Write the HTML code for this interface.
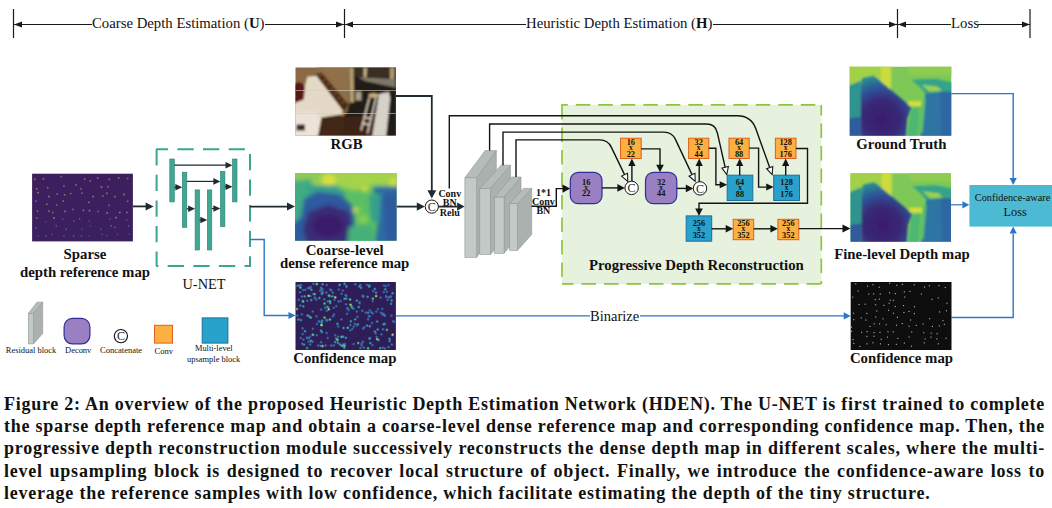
<!DOCTYPE html>
<html><head><meta charset="utf-8">
<style>
html,body{margin:0;padding:0;background:#fff;}
body{width:1052px;height:508px;position:relative;overflow:hidden;font-family:"Liberation Serif",serif;}
svg{position:absolute;left:0;top:0;}
.cap{position:absolute;left:4px;width:1041px;font:bold 18px/22.4px "Liberation Serif",serif;color:#111;letter-spacing:0.77px;white-space:nowrap;}
.cap div{height:22.4px;text-align:justify;text-align-last:justify;}
.cap div.last{text-align:left;text-align-last:left;}
</style></head><body>
<svg width="1052" height="380" viewBox="0 0 1052 380">
<defs><filter id="bl2" x="-10%" y="-10%" width="120%" height="120%"><feGaussianBlur stdDeviation="14"/></filter><filter id="bl1" x="-10%" y="-10%" width="120%" height="120%"><feGaussianBlur stdDeviation="7"/></filter><filter id="bl3" x="-10%" y="-10%" width="120%" height="120%"><feGaussianBlur stdDeviation="22"/></filter><filter id="dotb" x="-5%" y="-5%" width="110%" height="110%"><feGaussianBlur stdDeviation="0.85"/></filter><clipPath id="cRGB"><rect x="295.50" y="67.50" width="100.30" height="68.00"/></clipPath><filter id="b08" x="-20%" y="-20%" width="140%" height="140%"><feGaussianBlur stdDeviation="0.7"/></filter><filter id="b12" x="-20%" y="-20%" width="140%" height="140%"><feGaussianBlur stdDeviation="1.1"/></filter><filter id="b20" x="-20%" y="-20%" width="140%" height="140%"><feGaussianBlur stdDeviation="2.0"/></filter><clipPath id="cCM"><rect x="295.00" y="173.00" width="101.60" height="67.80"/></clipPath><radialGradient id="gFut" gradientUnits="userSpaceOnUse" cx="32" cy="52" r="46"><stop offset="0" stop-color="#3b1b6a"/><stop offset="0.42" stop-color="#382a78"/><stop offset="0.68" stop-color="#2d5499"/><stop offset="0.88" stop-color="#2b8293"/><stop offset="1" stop-color="#2a9a8d"/></radialGradient><clipPath id="cGT"><rect x="849.70" y="66.80" width="101.60" height="68.90"/></clipPath><clipPath id="cFL"><rect x="850.50" y="173.30" width="100.50" height="68.50"/></clipPath></defs>
<g stroke="#1a1a1a" stroke-width="1.2" fill="none">
<path d="M13.5 9V38M344.5 9V38M897.5 9V38M1030 9V38"/>
<path d="M14 24.5H92M265 24.5H344M345 24.5H526M713 24.5H897M898 24.5H951M978 24.5H1030"/>
</g>
<path d="M14.00 24.50 L22.00 21.50 L22.00 27.50 Z" fill="#1a1a1a"/>
<path d="M344.00 24.50 L336.00 21.50 L336.00 27.50 Z" fill="#1a1a1a"/>
<path d="M345.00 24.50 L353.00 21.50 L353.00 27.50 Z" fill="#1a1a1a"/>
<path d="M897.00 24.50 L889.00 21.50 L889.00 27.50 Z" fill="#1a1a1a"/>
<path d="M898.00 24.50 L906.00 21.50 L906.00 27.50 Z" fill="#1a1a1a"/>
<path d="M1030.00 24.50 L1022.00 21.50 L1022.00 27.50 Z" fill="#1a1a1a"/>
<g font-family="Liberation Serif" font-size="14.75" fill="#111">
<text x="92" y="28">Coarse Depth Estimation (<tspan font-weight="bold">U</tspan>)</text>
<text x="526" y="28">Heuristic Depth Estimation (<tspan font-weight="bold">H</tspan>)</text>
<text x="951" y="28">Loss</text>
</g>
<rect x="32.1" y="173.7" width="100.8" height="67.7" fill="#3c1f5f"/>
<rect x="34.0" y="178.5" width="1.6" height="1.6" fill="#d8893a" fill-opacity="0.7"/>
<rect x="42.7" y="178.1" width="1.6" height="1.6" fill="#c9953c" fill-opacity="0.7"/>
<rect x="60.5" y="175.7" width="1.6" height="1.6" fill="#b8834c" fill-opacity="0.7"/>
<rect x="83.8" y="178.4" width="1.6" height="1.6" fill="#d8893a" fill-opacity="0.7"/>
<rect x="89.5" y="180.1" width="1.6" height="1.6" fill="#d8893a" fill-opacity="0.7"/>
<rect x="96.9" y="177.3" width="1.6" height="1.6" fill="#d8893a" fill-opacity="0.7"/>
<rect x="108.5" y="178.6" width="1.6" height="1.6" fill="#d8893a" fill-opacity="0.7"/>
<rect x="117.9" y="177.1" width="1.6" height="1.6" fill="#d8893a" fill-opacity="0.7"/>
<rect x="126.8" y="177.7" width="1.6" height="1.6" fill="#b8834c" fill-opacity="0.7"/>
<rect x="35.9" y="188.0" width="1.6" height="1.6" fill="#e09a40" fill-opacity="0.7"/>
<rect x="46.9" y="186.9" width="1.6" height="1.6" fill="#c9953c" fill-opacity="0.7"/>
<rect x="63.1" y="185.1" width="1.6" height="1.6" fill="#b8834c" fill-opacity="0.7"/>
<rect x="75.0" y="184.0" width="1.6" height="1.6" fill="#b8834c" fill-opacity="0.7"/>
<rect x="80.2" y="188.1" width="1.6" height="1.6" fill="#b8834c" fill-opacity="0.7"/>
<rect x="100.7" y="186.3" width="1.6" height="1.6" fill="#e09a40" fill-opacity="0.7"/>
<rect x="107.2" y="185.9" width="1.6" height="1.6" fill="#b8834c" fill-opacity="0.7"/>
<rect x="37.3" y="191.9" width="1.6" height="1.6" fill="#e09a40" fill-opacity="0.7"/>
<rect x="48.1" y="195.7" width="1.6" height="1.6" fill="#e09a40" fill-opacity="0.7"/>
<rect x="56.4" y="193.3" width="1.6" height="1.6" fill="#b8834c" fill-opacity="0.7"/>
<rect x="63.8" y="194.1" width="1.6" height="1.6" fill="#c9953c" fill-opacity="0.7"/>
<rect x="69.9" y="192.8" width="1.6" height="1.6" fill="#b8834c" fill-opacity="0.7"/>
<rect x="81.1" y="192.4" width="1.6" height="1.6" fill="#b8834c" fill-opacity="0.7"/>
<rect x="92.4" y="195.7" width="1.6" height="1.6" fill="#e09a40" fill-opacity="0.7"/>
<rect x="102.0" y="195.0" width="1.6" height="1.6" fill="#b8834c" fill-opacity="0.7"/>
<rect x="106.0" y="192.5" width="1.6" height="1.6" fill="#c9953c" fill-opacity="0.7"/>
<rect x="114.2" y="195.8" width="1.6" height="1.6" fill="#c9953c" fill-opacity="0.7"/>
<rect x="123.1" y="193.7" width="1.6" height="1.6" fill="#e09a40" fill-opacity="0.7"/>
<rect x="35.0" y="200.4" width="1.6" height="1.6" fill="#9a8a70" fill-opacity="0.7"/>
<rect x="46.0" y="203.5" width="1.6" height="1.6" fill="#c88a58" fill-opacity="0.7"/>
<rect x="55.8" y="204.2" width="1.6" height="1.6" fill="#9a8a70" fill-opacity="0.7"/>
<rect x="62.5" y="200.3" width="1.6" height="1.6" fill="#c88a58" fill-opacity="0.7"/>
<rect x="88.1" y="201.5" width="1.6" height="1.6" fill="#b88898" fill-opacity="0.7"/>
<rect x="108.3" y="204.5" width="1.6" height="1.6" fill="#9a8a70" fill-opacity="0.7"/>
<rect x="126.8" y="200.5" width="1.6" height="1.6" fill="#a88278" fill-opacity="0.7"/>
<rect x="36.7" y="210.4" width="1.6" height="1.6" fill="#b88898" fill-opacity="0.7"/>
<rect x="48.1" y="210.3" width="1.6" height="1.6" fill="#c88a58" fill-opacity="0.7"/>
<rect x="52.0" y="211.7" width="1.6" height="1.6" fill="#a88278" fill-opacity="0.7"/>
<rect x="64.3" y="210.6" width="1.6" height="1.6" fill="#c89aa8" fill-opacity="0.7"/>
<rect x="72.3" y="208.7" width="1.6" height="1.6" fill="#9a8a70" fill-opacity="0.7"/>
<rect x="82.6" y="209.5" width="1.6" height="1.6" fill="#b88898" fill-opacity="0.7"/>
<rect x="88.7" y="209.8" width="1.6" height="1.6" fill="#c89aa8" fill-opacity="0.7"/>
<rect x="97.4" y="210.7" width="1.6" height="1.6" fill="#9a8a70" fill-opacity="0.7"/>
<rect x="106.4" y="212.1" width="1.6" height="1.6" fill="#c89aa8" fill-opacity="0.7"/>
<rect x="119.0" y="211.7" width="1.6" height="1.6" fill="#c89aa8" fill-opacity="0.7"/>
<rect x="126.1" y="211.7" width="1.6" height="1.6" fill="#b88898" fill-opacity="0.7"/>
<rect x="35.9" y="217.2" width="1.6" height="1.6" fill="#9a8a70" fill-opacity="0.7"/>
<rect x="44.8" y="220.9" width="1.6" height="1.6" fill="#2f5cac" fill-opacity="0.7"/>
<rect x="53.3" y="217.3" width="1.6" height="1.6" fill="#c89aa8" fill-opacity="0.7"/>
<rect x="62.1" y="218.6" width="1.6" height="1.6" fill="#3a6cc0" fill-opacity="0.7"/>
<rect x="73.0" y="220.2" width="1.6" height="1.6" fill="#3a6cc0" fill-opacity="0.7"/>
<rect x="78.8" y="218.1" width="1.6" height="1.6" fill="#4080c8" fill-opacity="0.7"/>
<rect x="88.2" y="220.1" width="1.6" height="1.6" fill="#2f5cac" fill-opacity="0.7"/>
<rect x="109.4" y="218.5" width="1.6" height="1.6" fill="#3a6cc0" fill-opacity="0.7"/>
<rect x="115.1" y="216.8" width="1.6" height="1.6" fill="#c89aa8" fill-opacity="0.7"/>
<rect x="125.9" y="219.5" width="1.6" height="1.6" fill="#5a62a8" fill-opacity="0.7"/>
<rect x="35.2" y="227.1" width="1.6" height="1.6" fill="#4080c8" fill-opacity="0.7"/>
<rect x="55.5" y="224.9" width="1.6" height="1.6" fill="#4080c8" fill-opacity="0.7"/>
<rect x="65.3" y="228.5" width="1.6" height="1.6" fill="#4080c8" fill-opacity="0.7"/>
<rect x="81.1" y="228.2" width="1.6" height="1.6" fill="#2f5cac" fill-opacity="0.7"/>
<rect x="89.6" y="225.1" width="1.6" height="1.6" fill="#2f5cac" fill-opacity="0.7"/>
<rect x="100.1" y="228.5" width="1.6" height="1.6" fill="#5a62a8" fill-opacity="0.7"/>
<rect x="110.4" y="225.1" width="1.6" height="1.6" fill="#4080c8" fill-opacity="0.7"/>
<rect x="114.2" y="226.6" width="1.6" height="1.6" fill="#4080c8" fill-opacity="0.7"/>
<rect x="127.8" y="225.1" width="1.6" height="1.6" fill="#4080c8" fill-opacity="0.7"/>
<rect x="37.5" y="235.4" width="1.6" height="1.6" fill="#2f5cac" fill-opacity="0.7"/>
<rect x="45.3" y="235.0" width="1.6" height="1.6" fill="#3a6cc0" fill-opacity="0.7"/>
<rect x="51.4" y="233.6" width="1.6" height="1.6" fill="#3a6cc0" fill-opacity="0.7"/>
<rect x="63.1" y="235.4" width="1.6" height="1.6" fill="#3a6cc0" fill-opacity="0.7"/>
<rect x="72.8" y="235.1" width="1.6" height="1.6" fill="#4080c8" fill-opacity="0.7"/>
<rect x="80.8" y="235.3" width="1.6" height="1.6" fill="#5a62a8" fill-opacity="0.7"/>
<rect x="88.6" y="235.2" width="1.6" height="1.6" fill="#2f5cac" fill-opacity="0.7"/>
<rect x="101.5" y="233.6" width="1.6" height="1.6" fill="#5a62a8" fill-opacity="0.7"/>
<rect x="105.8" y="234.8" width="1.6" height="1.6" fill="#3a6cc0" fill-opacity="0.7"/>
<rect x="116.7" y="233.7" width="1.6" height="1.6" fill="#2f5cac" fill-opacity="0.7"/>
<rect x="128.5" y="233.4" width="1.6" height="1.6" fill="#2f5cac" fill-opacity="0.7"/>
<path d="M156.10 149.20 L250.00 149.20" stroke="#3ba590" stroke-width="2" stroke-dasharray="16.3 9.3" stroke-dashoffset="4.3" fill="none"/>
<path d="M156.60 148.20 L156.60 266.00" stroke="#3ba590" stroke-width="2" stroke-dasharray="16.3 9.3" stroke-dashoffset="-1" fill="none"/>
<path d="M250.00 149.20 L250.00 266.00" stroke="#3ba590" stroke-width="2" stroke-dasharray="16.3 9.3" stroke-dashoffset="20.9" fill="none"/>
<path d="M156.10 266.00 L251.00 266.00" stroke="#3ba590" stroke-width="2" stroke-dasharray="16.3 9.3" stroke-dashoffset="14" fill="none"/>
<rect x="169.80" y="159.00" width="4.5" height="42.90" fill="#40a792" stroke="#2b7f70" stroke-width="0.6"/>
<rect x="182.30" y="172.20" width="4.5" height="55.10" fill="#40a792" stroke="#2b7f70" stroke-width="0.6"/>
<rect x="195.10" y="189.90" width="4.5" height="60.10" fill="#40a792" stroke="#2b7f70" stroke-width="0.6"/>
<rect x="207.30" y="189.90" width="4.5" height="60.10" fill="#40a792" stroke="#2b7f70" stroke-width="0.6"/>
<rect x="220.40" y="171.40" width="4.5" height="55.20" fill="#40a792" stroke="#2b7f70" stroke-width="0.6"/>
<rect x="232.50" y="159.00" width="4.5" height="42.90" fill="#40a792" stroke="#2b7f70" stroke-width="0.6"/>
<path d="M174.30 165.20 L228.50 165.20" fill="none" stroke="#1f2b30" stroke-width="1.2" stroke-linejoin="miter"/>
<path d="M232.50 165.20 L225.50 161.90 L225.50 168.50 Z" fill="#1f2b30"/>
<path d="M186.80 181.40 L216.40 181.40" fill="none" stroke="#1f2b30" stroke-width="1.2" stroke-linejoin="miter"/>
<path d="M220.40 181.40 L213.40 178.10 L213.40 184.70 Z" fill="#1f2b30"/>
<path d="M174.30 187.30 L178.30 187.30" fill="none" stroke="#1f2b30" stroke-width="1.2" stroke-linejoin="miter"/>
<path d="M182.30 187.30 L175.30 184.00 L175.30 190.60 Z" fill="#1f2b30"/>
<path d="M186.80 208.80 L191.10 208.80" fill="none" stroke="#1f2b30" stroke-width="1.2" stroke-linejoin="miter"/>
<path d="M195.10 208.80 L188.10 205.50 L188.10 212.10 Z" fill="#1f2b30"/>
<path d="M199.60 220.00 L203.30 220.00" fill="none" stroke="#1f2b30" stroke-width="1.2" stroke-linejoin="miter"/>
<path d="M207.30 220.00 L200.30 216.70 L200.30 223.30 Z" fill="#1f2b30"/>
<path d="M211.80 208.50 L216.40 208.50" fill="none" stroke="#1f2b30" stroke-width="1.2" stroke-linejoin="miter"/>
<path d="M220.40 208.50 L213.40 205.20 L213.40 211.80 Z" fill="#1f2b30"/>
<path d="M224.90 186.70 L228.50 186.70" fill="none" stroke="#1f2b30" stroke-width="1.2" stroke-linejoin="miter"/>
<path d="M232.50 186.70 L225.50 183.40 L225.50 190.00 Z" fill="#1f2b30"/>
<path d="M133.00 206.40 L147.00 206.40" fill="none" stroke="#1f2b30" stroke-width="1.8" stroke-linejoin="miter"/>
<path d="M153.60 206.40 L145.60 202.40 L145.60 210.40 Z" fill="#1f2b30"/>
<path d="M250.00 206.60 L288.00 206.60" fill="none" stroke="#1f2b30" stroke-width="1.8" stroke-linejoin="miter"/>
<path d="M295.00 206.60 L287.00 202.60 L287.00 210.60 Z" fill="#1f2b30"/>
<path d="M250.00 239.50 L264.20 239.50 L264.20 315.50 L289.00 315.50" fill="none" stroke="#2c77c5" stroke-width="1.4" stroke-linejoin="miter"/>
<path d="M295.50 315.50 L288.50 312.00 L288.50 319.00 Z" fill="#2c77c5"/>
<g font-family="Liberation Serif" font-weight="bold" font-size="14.8" fill="#111" text-anchor="middle" transform="translate(0 0.8)">
<text x="85" y="258">Sparse</text>
<text x="85" y="276.5">depth reference map</text>
<text x="346.6" y="148.6">RGB</text>
<text x="344.7" y="253.8">Coarse-level</text>
<text x="344.7" y="267.5">dense reference map</text>
<text x="344.8" y="362">Confidence map</text>
<text x="901.4" y="147.8">Ground Truth</text>
<text x="902" y="258">Fine-level Depth map</text>
<text x="901.5" y="362">Confidence map</text>
</g>
<g font-family="Liberation Serif" font-size="14.3" fill="#111" text-anchor="middle">
<text x="204" y="288.5">U-NET</text>
</g>
<path d="M476.70 177.80 L496.30 150.60 L496.30 230.00 L476.70 257.30 Z" fill="#aab1ae" stroke="#8f9895" stroke-width="0.6"/><path d="M464.90 177.80 L485.20 150.60 L496.30 150.60 L476.70 177.80 Z" fill="#b5bcb9" stroke="#8f9895" stroke-width="0.6"/><rect x="464.90" y="177.80" width="11.80" height="79.50" fill="#c3c9c7" stroke="#8f9895" stroke-width="0.6"/>
<path d="M490.40 188.40 L510.50 165.20 L510.50 232.00 L490.40 254.50 Z" fill="#aab1ae" stroke="#8f9895" stroke-width="0.6"/><path d="M479.80 188.40 L501.00 165.20 L510.50 165.20 L490.40 188.40 Z" fill="#b5bcb9" stroke="#8f9895" stroke-width="0.6"/><rect x="479.80" y="188.40" width="10.60" height="66.10" fill="#c3c9c7" stroke="#8f9895" stroke-width="0.6"/>
<path d="M504.10 197.10 L521.00 177.00 L521.00 233.00 L504.10 253.30 Z" fill="#aab1ae" stroke="#8f9895" stroke-width="0.6"/><path d="M494.60 197.10 L511.60 177.00 L521.00 177.00 L504.10 197.10 Z" fill="#b5bcb9" stroke="#8f9895" stroke-width="0.6"/><rect x="494.60" y="197.10" width="9.50" height="56.20" fill="#c3c9c7" stroke="#8f9895" stroke-width="0.6"/>
<path d="M517.50 203.70 L531.70 188.40 L531.70 234.40 L517.50 250.40 Z" fill="#aab1ae" stroke="#8f9895" stroke-width="0.6"/><path d="M509.70 203.70 L523.40 188.40 L531.70 188.40 L517.50 203.70 Z" fill="#b5bcb9" stroke="#8f9895" stroke-width="0.6"/><rect x="509.70" y="203.70" width="7.80" height="46.70" fill="#c3c9c7" stroke="#8f9895" stroke-width="0.6"/>
<path d="M396.60 206.60 L418.00 206.60" fill="none" stroke="#1f2b30" stroke-width="1.8" stroke-linejoin="miter"/>
<path d="M424.80 206.60 L416.80 202.40 L416.80 210.80 Z" fill="#1f2b30"/>
<path d="M396.00 96.00 L431.80 96.00 L431.80 191.00" fill="none" stroke="#1f2b30" stroke-width="1.8" stroke-linejoin="miter"/>
<path d="M431.80 198.60 L427.40 190.20 L436.20 190.20 Z" fill="#1f2b30"/>
<circle cx="431.8" cy="206.6" r="6.6" fill="#fff" stroke="#111" stroke-width="1"/>
<text x="431.8" y="210.8" font-family="Liberation Serif" font-size="12" fill="#181c30" text-anchor="middle">C</text>
<path d="M438.40 206.60 L457.00 206.60" fill="none" stroke="#1f2b30" stroke-width="1.8" stroke-linejoin="miter"/>
<path d="M464.60 206.60 L457.10 202.40 L457.10 210.80 Z" fill="#1f2b30"/>
<g font-family="Liberation Serif" font-weight="bold" font-size="10" fill="#111" text-anchor="middle">
<text x="449.8" y="196.9">Conv</text><text x="449.8" y="206.2">BN</text><text x="449.8" y="215.6">Relu</text>
<text x="543.4" y="195.9">1*1</text><text x="543.4" y="204.6">Conv</text><text x="543.4" y="214.4">BN</text>
</g>
<rect x="562" y="105" width="259.3" height="179" fill="#e6f1de"/>
<path d="M561.20 104.90 L821.30 104.90" stroke="#8cc63f" stroke-width="1.7" stroke-dasharray="14.5 8" stroke-dashoffset="7.9" fill="none"/>
<path d="M562.00 104.90 L562.00 284.00" stroke="#8cc63f" stroke-width="1.7" stroke-dasharray="14.5 8" stroke-dashoffset="0" fill="none"/>
<path d="M821.30 104.90 L821.30 284.00" stroke="#8cc63f" stroke-width="1.7" stroke-dasharray="14.5 8" stroke-dashoffset="4" fill="none"/>
<path d="M562.00 283.80 L821.30 283.80" stroke="#8cc63f" stroke-width="1.7" stroke-dasharray="14.5 8" stroke-dashoffset="3" fill="none"/>
<path d="M449.30 188.40 L449.30 115.80 L737.20 115.80 Q751.20 115.80 755.91 128.98 L769.68 167.54" fill="none" stroke="#141414" stroke-width="1.4"/><path d="M772.20 174.60 L766.57 168.65 L772.79 166.43 Z" fill="#fff" stroke="#141414" stroke-width="1.05" stroke-linejoin="miter"/>
<path d="M489.60 150.60 L489.60 124.00 L706.40 124.00 Q715.40 124.00 717.38 132.78 L725.15 167.28" fill="none" stroke="#141414" stroke-width="1.4"/><path d="M726.80 174.60 L721.93 168.01 L728.37 166.56 Z" fill="#fff" stroke="#141414" stroke-width="1.05" stroke-linejoin="miter"/>
<path d="M503.00 165.20 L503.00 132.10 L664.00 132.10 Q672.00 132.10 675.41 139.34 L692.01 174.61" fill="none" stroke="#141414" stroke-width="1.4"/><path d="M695.20 181.40 L689.02 176.02 L694.99 173.21 Z" fill="#fff" stroke="#141414" stroke-width="1.05" stroke-linejoin="miter"/>
<path d="M516.00 177.00 L516.00 139.90 L599.80 139.90 Q607.80 139.90 611.27 147.11 L624.54 174.64" fill="none" stroke="#141414" stroke-width="1.4"/><path d="M627.80 181.40 L621.57 176.08 L627.52 173.21 Z" fill="#fff" stroke="#141414" stroke-width="1.05" stroke-linejoin="miter"/>
<text x="696.4" y="269.8" font-family="Liberation Serif" font-weight="bold" font-size="14.8" fill="#111" text-anchor="middle">Progressive Depth Reconstruction</text>
<path d="M531.50 206.30 L556.30 206.30 L556.30 188.60 L563.00 188.60" fill="none" stroke="#141414" stroke-width="1.4" stroke-linejoin="miter"/>
<path d="M570.20 188.60 L562.50 184.50 L562.50 192.70 Z" fill="#141414"/>
<rect x="570.30" y="172.30" width="31.70" height="31.40" rx="8" ry="8" fill="#9a80c2" stroke="#2f2f96" stroke-width="1.2"/><g font-family="Liberation Serif" font-weight="bold" font-size="8.3" fill="#111" text-anchor="middle"><text x="586.15" y="184.50">16</text><text x="586.15" y="189.50" font-size="7.5">x</text><text x="586.15" y="196.40">22</text></g>
<rect x="645.50" y="172.30" width="31.30" height="31.40" rx="8" ry="8" fill="#9a80c2" stroke="#2f2f96" stroke-width="1.2"/><g font-family="Liberation Serif" font-weight="bold" font-size="8.3" fill="#111" text-anchor="middle"><text x="661.15" y="184.50">32</text><text x="661.15" y="189.50" font-size="7.5">x</text><text x="661.15" y="196.40">44</text></g>
<rect x="620.50" y="138.20" width="20.70" height="20.30" fill="#fbb041" stroke="#e0601e" stroke-width="1"/><g font-family="Liberation Serif" font-weight="bold" font-size="8.3" fill="#111" text-anchor="middle"><text x="630.85" y="145.10">16</text><text x="630.85" y="150.10" font-size="7.5">x</text><text x="630.85" y="157.00">22</text></g>
<rect x="688.60" y="138.20" width="20.20" height="20.30" fill="#fbb041" stroke="#e0601e" stroke-width="1"/><g font-family="Liberation Serif" font-weight="bold" font-size="8.3" fill="#111" text-anchor="middle"><text x="698.70" y="145.10">32</text><text x="698.70" y="150.10" font-size="7.5">x</text><text x="698.70" y="157.00">44</text></g>
<rect x="729.00" y="138.20" width="20.20" height="20.30" fill="#fbb041" stroke="#e0601e" stroke-width="1"/><g font-family="Liberation Serif" font-weight="bold" font-size="8.3" fill="#111" text-anchor="middle"><text x="739.10" y="145.10">64</text><text x="739.10" y="150.10" font-size="7.5">x</text><text x="739.10" y="157.00">88</text></g>
<rect x="775.40" y="138.20" width="20.60" height="20.30" fill="#fbb041" stroke="#e0601e" stroke-width="1"/><g font-family="Liberation Serif" font-weight="bold" font-size="8.3" fill="#111" text-anchor="middle"><text x="785.70" y="145.10">128</text><text x="785.70" y="150.10" font-size="7.5">x</text><text x="785.70" y="157.00">176</text></g>
<rect x="727.20" y="175.20" width="25.60" height="25.30" fill="#28a2cb" stroke="#1a6f9f" stroke-width="1"/><g font-family="Liberation Serif" font-weight="bold" font-size="8.3" fill="#111" text-anchor="middle"><text x="740.00" y="184.90">64</text><text x="740.00" y="189.90" font-size="7.5">x</text><text x="740.00" y="196.80">88</text></g>
<rect x="773.70" y="175.20" width="25.80" height="25.30" fill="#28a2cb" stroke="#1a6f9f" stroke-width="1"/><g font-family="Liberation Serif" font-weight="bold" font-size="8.3" fill="#111" text-anchor="middle"><text x="786.60" y="184.90">128</text><text x="786.60" y="189.90" font-size="7.5">x</text><text x="786.60" y="196.80">176</text></g>
<rect x="686.20" y="215.90" width="25.50" height="25.30" fill="#28a2cb" stroke="#1a6f9f" stroke-width="1"/><g font-family="Liberation Serif" font-weight="bold" font-size="8.3" fill="#111" text-anchor="middle"><text x="698.95" y="225.60">256</text><text x="698.95" y="230.60" font-size="7.5">x</text><text x="698.95" y="237.50">352</text></g>
<rect x="733.20" y="219.30" width="20.50" height="20.40" fill="#fbb041" stroke="#e0601e" stroke-width="1"/><g font-family="Liberation Serif" font-weight="bold" font-size="8.3" fill="#111" text-anchor="middle"><text x="743.45" y="226.20">256</text><text x="743.45" y="231.20" font-size="7.5">x</text><text x="743.45" y="238.10">352</text></g>
<rect x="777.90" y="219.30" width="20.90" height="20.40" fill="#fbb041" stroke="#e0601e" stroke-width="1"/><g font-family="Liberation Serif" font-weight="bold" font-size="8.3" fill="#111" text-anchor="middle"><text x="788.35" y="226.20">256</text><text x="788.35" y="231.20" font-size="7.5">x</text><text x="788.35" y="238.10">352</text></g>
<circle cx="631.60" cy="187.90" r="6.7" fill="#fff" stroke="#111" stroke-width="1"/><text x="631.60" y="192.10" font-family="Liberation Serif" font-size="12" fill="#181c30" text-anchor="middle">C</text>
<circle cx="700.00" cy="188.40" r="6.7" fill="#fff" stroke="#111" stroke-width="1"/><text x="700.00" y="192.60" font-family="Liberation Serif" font-size="12" fill="#181c30" text-anchor="middle">C</text>
<path d="M602.00 187.90 L618.00 187.90" fill="none" stroke="#141414" stroke-width="1.4" stroke-linejoin="miter"/>
<path d="M624.90 187.90 L617.40 184.10 L617.40 191.70 Z" fill="#141414"/>
<path d="M676.80 188.40 L686.00 188.40" fill="none" stroke="#141414" stroke-width="1.4" stroke-linejoin="miter"/>
<path d="M693.30 188.40 L685.80 184.60 L685.80 192.20 Z" fill="#141414"/>
<path d="M631.90 181.20 L631.90 165.00" fill="none" stroke="#141414" stroke-width="1.4" stroke-linejoin="miter"/>
<path d="M631.90 158.50 L628.30 166.00 L635.50 166.00 Z" fill="#141414"/>
<path d="M699.20 181.70 L699.20 165.00" fill="none" stroke="#141414" stroke-width="1.4" stroke-linejoin="miter"/>
<path d="M699.20 158.50 L695.60 166.00 L702.80 166.00 Z" fill="#141414"/>
<path d="M739.70 175.20 L739.70 165.00" fill="none" stroke="#141414" stroke-width="1.4" stroke-linejoin="miter"/>
<path d="M739.70 158.50 L736.10 166.00 L743.30 166.00 Z" fill="#141414"/>
<path d="M785.70 175.20 L785.70 165.00" fill="none" stroke="#141414" stroke-width="1.4" stroke-linejoin="miter"/>
<path d="M785.70 158.50 L782.10 166.00 L789.30 166.00 Z" fill="#141414"/>
<path d="M641.20 148.90 L660.00 148.90 L660.00 165.00" fill="none" stroke="#141414" stroke-width="1.4" stroke-linejoin="miter"/>
<path d="M660.00 172.30 L656.20 164.80 L663.80 164.80 Z" fill="#141414"/>
<path d="M708.80 148.30 L715.90 148.30 L715.90 184.80 L720.00 184.80" fill="none" stroke="#141414" stroke-width="1.4" stroke-linejoin="miter"/>
<path d="M727.20 184.80 L719.70 181.30 L719.70 188.30 Z" fill="#141414"/>
<path d="M749.20 148.10 L758.60 148.10 L758.60 187.10 L766.00 187.10" fill="none" stroke="#141414" stroke-width="1.4" stroke-linejoin="miter"/>
<path d="M773.70 187.10 L766.20 183.60 L766.20 190.60 Z" fill="#141414"/>
<path d="M796.00 148.50 L807.50 148.50 L807.50 203.20 L699.00 203.20 L699.00 209.00" fill="none" stroke="#141414" stroke-width="1.4" stroke-linejoin="miter"/>
<path d="M699.00 215.90 L695.20 208.40 L702.80 208.40 Z" fill="#141414"/>
<path d="M711.70 228.80 L726.00 228.80" fill="none" stroke="#141414" stroke-width="1.4" stroke-linejoin="miter"/>
<path d="M733.20 228.80 L725.70 225.00 L725.70 232.60 Z" fill="#141414"/>
<path d="M753.70 228.80 L771.00 228.80" fill="none" stroke="#141414" stroke-width="1.4" stroke-linejoin="miter"/>
<path d="M777.90 228.80 L770.40 225.00 L770.40 232.60 Z" fill="#141414"/>
<path d="M798.80 228.60 L843.00 228.60" fill="none" stroke="#141414" stroke-width="1.4" stroke-linejoin="miter"/>
<path d="M850.50 228.60 L842.50 224.60 L842.50 232.60 Z" fill="#141414"/>
<rect x="969.4" y="185" width="90" height="41.6" fill="#4dbad4"/>
<text x="974.8" y="200.7" font-family="Liberation Serif" font-size="10.3" fill="#111">Confidence-aware</text>
<text x="1015.2" y="215.7" font-family="Liberation Serif" font-size="12.3" fill="#111" text-anchor="middle">Loss</text>
<path d="M951.30 93.60 L1013.20 93.60 L1013.20 178.00" fill="none" stroke="#2c77c5" stroke-width="1.4" stroke-linejoin="miter"/>
<path d="M1013.20 185.00 L1009.60 178.00 L1016.80 178.00 Z" fill="#2c77c5"/>
<path d="M951.50 317.50 L1013.20 317.50 L1013.20 233.60" fill="none" stroke="#2c77c5" stroke-width="1.4" stroke-linejoin="miter"/>
<path d="M1013.20 226.60 L1009.60 233.60 L1016.80 233.60 Z" fill="#2c77c5"/>
<path d="M951.00 204.80 L962.50 204.80" fill="none" stroke="#2c77c5" stroke-width="1.2" stroke-linejoin="miter"/>
<path d="M969.40 204.80 L962.40 201.20 L962.40 208.40 Z" fill="#2c77c5"/>
<path d="M396.00 315.90 L590.00 315.90" fill="none" stroke="#2c77c5" stroke-width="1.2" stroke-linejoin="miter"/>
<path d="M640.00 315.90 L844.00 315.90" fill="none" stroke="#2c77c5" stroke-width="1.2" stroke-linejoin="miter"/>
<path d="M850.70 315.90 L843.70 312.30 L843.70 319.50 Z" fill="#2c77c5"/>
<text x="590" y="320.8" font-family="Liberation Serif" font-size="14.5" fill="#111">Binarize</text>
<path d="M33.50 313.60 L42.70 302.20 L42.70 333.60 L33.50 343.90 Z" fill="#aab1ae" stroke="#8f9895" stroke-width="0.6"/><path d="M28.30 313.60 L36.90 302.20 L42.70 302.20 L33.50 313.60 Z" fill="#b5bcb9" stroke="#8f9895" stroke-width="0.6"/><rect x="28.30" y="313.60" width="5.20" height="30.30" fill="#c3c9c7" stroke="#8f9895" stroke-width="0.6"/>
<rect x="64.1" y="318.4" width="25.8" height="25.5" rx="8.3" ry="8.3" fill="#9a80c2" stroke="#2f2f96" stroke-width="1.2"/>
<circle cx="120.9" cy="336.1" r="6.6" fill="#fff" stroke="#111" stroke-width="1.1"/><text x="120.9" y="340.4" font-family="Liberation Serif" font-size="12" fill="#181c30" text-anchor="middle">C</text>
<rect x="154.5" y="325.3" width="18" height="17.8" fill="#fbb041" stroke="#e0601e" stroke-width="1"/>
<rect x="202.2" y="317.9" width="25.7" height="25.2" fill="#28a2cb" stroke="#1a6f9f" stroke-width="1"/>
<g font-family="Liberation Serif" font-size="8.4" fill="#111">
<text x="5.8" y="352.6" textLength="50.4" lengthAdjust="spacingAndGlyphs">Residual block</text>
<text x="65.1" y="352.6" textLength="26.2" lengthAdjust="spacingAndGlyphs">Deconv</text>
<text x="100" y="352.6" textLength="42.1" lengthAdjust="spacingAndGlyphs">Concatenate</text>
<text x="154.5" y="353.5" textLength="18.5" lengthAdjust="spacingAndGlyphs">Conv</text>
<text x="213.8" y="350.6" text-anchor="middle">Multi-level</text>
<text x="187.1" y="361.7" textLength="53.1" lengthAdjust="spacingAndGlyphs">upsample block</text>
</g>
<g clip-path="url(#cRGB)"><g transform="translate(295.5 67.5)">
<rect x="-3" y="-3" width="106" height="74" fill="#8a6944"/>
<g filter="url(#b12)">
<path d="M20 -3 L56 -3 L56 30 L48 40 Z" fill="#8f6f48" />
<ellipse cx="3" cy="26" rx="8" ry="11" fill="#5a1616"/>
<path d="M54 -3 L103 -3 L103 71 L44 71 L46 52 L52 44 L54 36 Z" fill="#241b13" />
<path d="M56 -3 L103 -3 L103 10 L58 9 Z" fill="#3b2f22" />
<path d="M44 50 L78 47 L78 71 L40 71 Z" fill="#3e2216" />
<path d="M54 0 L58 0 L58.5 35 L54.5 35 Z" fill="#b59f72" />
<path d="M68 0 L71.5 0 L71 10 L68 10 Z" fill="#c0ad85" />
<path d="M94.5 0 L99 0 L98.5 14 L94.5 14 Z" fill="#b09a70" />
<path d="M62.5 9.7 L100 11.5 L100 20 L90.5 18 L69.5 13.5 Z" fill="#7f776a" />
<path d="M60 24 L66 24 L66 33 L60 33 Z" fill="#a89f88" />
<path d="M19 8 L26 5 L53 37 L48 45 Z" fill="#4a2a18" />
<path d="M23 8 L26 6.5 L27.2 8 L24.2 9.5 Z" fill="#7a4a2a" />
<path d="M26.7143 12.4286 L29.7143 10.9286 L30.9143 12.4286 L27.9143 13.9286 Z" fill="#7a4a2a" />
<path d="M30.4286 16.8571 L33.4286 15.3571 L34.6286 16.8571 L31.6286 18.3571 Z" fill="#7a4a2a" />
<path d="M34.1429 21.2857 L37.1429 19.7857 L38.3429 21.2857 L35.3429 22.7857 Z" fill="#7a4a2a" />
<path d="M37.8571 25.7143 L40.8571 24.2143 L42.0571 25.7143 L39.0571 27.2143 Z" fill="#7a4a2a" />
<path d="M41.5714 30.1429 L44.5714 28.6429 L45.7714 30.1429 L42.7714 31.6429 Z" fill="#7a4a2a" />
<path d="M45.2857 34.5714 L48.2857 33.0714 L49.4857 34.5714 L46.4857 36.0714 Z" fill="#7a4a2a" />
<path d="M11.8 9 L20.9 8.3 L47.4 43 L46 48.8 L30.7 57.2 L20.9 70 L-2 70 L-2 36 L8.3 32 L9.7 16.7 Z" fill="#e4d9c7" />
<path d="M-2 45 L20 44 L28 56 L20.9 70 L-2 70 Z" fill="#ece3d6" />
<path d="M26 50 L46 47 L50 60 L44 71 L22 71 Z" fill="#432818" />
<path d="M1 57 L9.5 57 L9.5 63 L1 63 Z" fill="#2e2e2e" />
<ellipse cx="78" cy="28" rx="5" ry="2.2" fill="#cfb07e"/>
<path d="M74 30 L65.5 63 M80.5 30 L72 66 M68 50 L76 51 M66.5 56 L74 57" stroke="#e2dacb" stroke-width="1.4" fill="none"/>
<path d="M83.5 26.5 L93.3 24.4 L94.7 30.6 L90.5 70 L76.5 70 Z" fill="#d6d2c8" />
</g>
<path d="M-3 23 H103 M-3 46 H103" stroke="#d5cdc3" stroke-width="0.6" fill="none"/>
</g></g>
<g clip-path="url(#cCM)"><g transform="translate(295 173)">
<rect x="-3" y="-3" width="108" height="74" fill="#5abf64"/>
<g filter="url(#b20)">
<path d="M-3 -3 L105 -3 L105 13 L80 12 L60 18 L42 13 L-3 10 Z" fill="#a3d24b" />
<path d="M-3 -3 L26 -3 L26 8 L-3 10 Z" fill="#8fcb52" />
<ellipse cx="34" cy="8" rx="7" ry="6.5" fill="#dce03a"/>
<ellipse cx="98.5" cy="10" rx="3.5" ry="5" fill="#d2df3c"/>
<ellipse cx="70" cy="16" rx="4" ry="3" fill="#c7dc42"/>
<ellipse cx="83" cy="20" rx="4" ry="3.5" fill="#d7e03a"/>
<path d="M-3 8 L16 6 L20 20 L12 50 L-3 54 Z" fill="#40aa84" />
<path d="M12 12 L42 12 L52 22 L44 28 L14 28 Z" fill="#39a08b" />
<path d="M9 26 L22.4 18.5 L45.4 21.4 L58.3 34.3 L59.8 57.3 L55.5 71 L-3 71 L-3 52 L6 44 Z" fill="#2f5a9f" />
<path d="M13.8 38.7 L33.9 31.5 L54 38.7 L56.9 54.5 L52.6 71 L12.4 71 L8 56 Z" fill="#3a2a76" />
<ellipse cx="33" cy="53" rx="15" ry="11" fill="#3b1c6b"/>
<path d="M78 14 L105 13 L105 71 L80 71 L84 40 Z" fill="#2f6aa3" />
<path d="M88 22 L105 20 L105 71 L92 71 Z" fill="#2e5a9e" />
<path d="M74 22 L86 20 L84 50 L76 48 Z" fill="#36a08c" />
<ellipse cx="61" cy="37" rx="3.5" ry="2.5" fill="#cadd3e"/>
<ellipse cx="68" cy="46" rx="6" ry="4" fill="#86cc52"/>
<path d="M54 54 L78 52 L80 71 L52 71 Z" fill="#47b078" />
</g></g></g>
<g clip-path="url(#cGT)"><g transform="translate(849.7 66.8)">
<rect x="-3" y="-3" width="108" height="75" fill="#7ec858"/>
<g filter="url(#b12)">
<path d="M-3 -3 L42 -3 L42 20 L24 9 L12 11 L8 19 L-3 20 Z" fill="#a2d147" />
<path d="M31 -3 L41 -3 L41 27 L31 18 Z" fill="#cbdc3e" />
<path d="M58 -3 L104 -3 L104 8 L60 8 Z" fill="#8fcc50" />
<path d="M62 13 L86 12 L104 16 L104 28 L76 27 L70 20 Z" fill="#35a38b" />
<path d="M72 18 L88 20 L92 24 L80 25 Z" fill="#9ed24a" />
<path d="M58.8 34.3 L73 34.3 L73 39.3 L58.8 39.3 Z" fill="#d6df3a" />
<path d="M-3 19.5 L11 14 L11 52 L-3 52 Z" fill="#2f9490" />
<path d="M-3 52 L11 50 L11 72 L-3 72 Z" fill="#2d5b9e" />
<path d="M75.8 26.5 L104 25 L104 72 L70 72 Z" fill="#2f75a3" />
<path d="M90 25 L104 25 L104 72 L92 72 Z" fill="#2e68a3" />
<path d="M72 33 L76 32 L73 66 L69 66 Z" fill="#5cbf68" />
<path d="M61 42 L70 40 L68 72 L57 72 Z" fill="#4eb872" />
<path d="M12.5 11 L23.8 8.8 L52.3 32.2 L61.6 40.7 L57.4 52 L56 72 L11 72 L11 19.5 Z" fill="url(#gFut)" />
</g></g></g>
<g clip-path="url(#cFL)"><g transform="translate(850.5 173.3)">
<rect x="-3" y="-3" width="108" height="75" fill="#7ec858"/>
<g filter="url(#b12)">
<path d="M-3 -3 L42 -3 L42 20 L24 9 L12 11 L8 19 L-3 20 Z" fill="#a2d147" />
<path d="M31 -3 L41 -3 L41 27 L31 18 Z" fill="#cbdc3e" />
<path d="M58 -3 L104 -3 L104 8 L60 8 Z" fill="#8fcc50" />
<path d="M62 13 L86 12 L104 16 L104 28 L76 27 L70 20 Z" fill="#35a38b" />
<path d="M72 18 L88 20 L92 24 L80 25 Z" fill="#9ed24a" />
<path d="M58.8 34.3 L73 34.3 L73 39.3 L58.8 39.3 Z" fill="#d6df3a" />
<path d="M-3 19.5 L11 14 L11 52 L-3 52 Z" fill="#2f9490" />
<path d="M-3 52 L11 50 L11 72 L-3 72 Z" fill="#2d5b9e" />
<path d="M75.8 26.5 L104 25 L104 72 L70 72 Z" fill="#2f75a3" />
<path d="M90 25 L104 25 L104 72 L92 72 Z" fill="#2e68a3" />
<path d="M72 33 L76 32 L73 66 L69 66 Z" fill="#5cbf68" />
<path d="M61 42 L70 40 L68 72 L57 72 Z" fill="#4eb872" />
<path d="M12.5 11 L23.8 8.8 L52.3 32.2 L61.6 40.7 L57.4 52 L56 72 L11 72 L11 19.5 Z" fill="url(#gFut)" />
</g></g></g>
<rect x="295.5" y="282" width="100.4" height="68" fill="#2e1d57"/>
<circle cx="310.9" cy="340.9" r="1.5" fill="#5ccc78" fill-opacity="0.45"/><circle cx="310.9" cy="340.9" r="0.85" fill="#5ccc78"/>
<circle cx="318.3" cy="345.4" r="1.5" fill="#3a72b2" fill-opacity="0.45"/><circle cx="318.3" cy="345.4" r="0.85" fill="#3a72b2"/>
<circle cx="344.3" cy="347.8" r="1.5" fill="#2fa2b6" fill-opacity="0.45"/><circle cx="344.3" cy="347.8" r="0.85" fill="#2fa2b6"/>
<circle cx="312.7" cy="311.5" r="1.5" fill="#3a72b2" fill-opacity="0.45"/><circle cx="312.7" cy="311.5" r="0.85" fill="#3a72b2"/>
<circle cx="329.9" cy="296.2" r="1.5" fill="#3a72b2" fill-opacity="0.45"/><circle cx="329.9" cy="296.2" r="0.85" fill="#3a72b2"/>
<circle cx="367.0" cy="284.8" r="1.5" fill="#3a72b2" fill-opacity="0.45"/><circle cx="367.0" cy="284.8" r="0.85" fill="#3a72b2"/>
<circle cx="339.7" cy="284.7" r="1.5" fill="#3a72b2" fill-opacity="0.45"/><circle cx="339.7" cy="284.7" r="0.85" fill="#3a72b2"/>
<circle cx="357.5" cy="316.8" r="1.5" fill="#3a72b2" fill-opacity="0.45"/><circle cx="357.5" cy="316.8" r="0.85" fill="#3a72b2"/>
<circle cx="392.6" cy="334.7" r="1.5" fill="#b8e058" fill-opacity="0.45"/><circle cx="392.6" cy="334.7" r="0.85" fill="#b8e058"/>
<circle cx="307.2" cy="300.8" r="1.5" fill="#3a72b2" fill-opacity="0.45"/><circle cx="307.2" cy="300.8" r="0.85" fill="#3a72b2"/>
<circle cx="372.6" cy="301.1" r="1.5" fill="#3a72b2" fill-opacity="0.45"/><circle cx="372.6" cy="301.1" r="0.85" fill="#3a72b2"/>
<circle cx="338.0" cy="342.7" r="1.5" fill="#2fa2b6" fill-opacity="0.45"/><circle cx="338.0" cy="342.7" r="0.85" fill="#2fa2b6"/>
<circle cx="322.1" cy="293.2" r="1.5" fill="#5ccc78" fill-opacity="0.45"/><circle cx="322.1" cy="293.2" r="0.85" fill="#5ccc78"/>
<circle cx="352.3" cy="329.0" r="1.5" fill="#3a72b2" fill-opacity="0.45"/><circle cx="352.3" cy="329.0" r="0.85" fill="#3a72b2"/>
<circle cx="302.6" cy="328.2" r="1.5" fill="#3a72b2" fill-opacity="0.45"/><circle cx="302.6" cy="328.2" r="0.85" fill="#3a72b2"/>
<circle cx="304.0" cy="344.5" r="1.5" fill="#2fa2b6" fill-opacity="0.45"/><circle cx="304.0" cy="344.5" r="0.85" fill="#2fa2b6"/>
<circle cx="374.8" cy="288.9" r="1.5" fill="#2fa2b6" fill-opacity="0.45"/><circle cx="374.8" cy="288.9" r="0.85" fill="#2fa2b6"/>
<circle cx="303.5" cy="339.6" r="1.5" fill="#3a72b2" fill-opacity="0.45"/><circle cx="303.5" cy="339.6" r="0.85" fill="#3a72b2"/>
<circle cx="329.9" cy="319.4" r="1.5" fill="#5ccc78" fill-opacity="0.45"/><circle cx="329.9" cy="319.4" r="0.85" fill="#5ccc78"/>
<circle cx="323.0" cy="291.9" r="1.5" fill="#3a72b2" fill-opacity="0.45"/><circle cx="323.0" cy="291.9" r="0.85" fill="#3a72b2"/>
<circle cx="320.1" cy="290.6" r="1.5" fill="#3a72b2" fill-opacity="0.45"/><circle cx="320.1" cy="290.6" r="0.85" fill="#3a72b2"/>
<circle cx="301.9" cy="296.6" r="1.5" fill="#3a72b2" fill-opacity="0.45"/><circle cx="301.9" cy="296.6" r="0.85" fill="#3a72b2"/>
<circle cx="326.6" cy="332.9" r="1.5" fill="#3a72b2" fill-opacity="0.45"/><circle cx="326.6" cy="332.9" r="0.85" fill="#3a72b2"/>
<circle cx="345.5" cy="295.1" r="1.5" fill="#3a72b2" fill-opacity="0.45"/><circle cx="345.5" cy="295.1" r="0.85" fill="#3a72b2"/>
<circle cx="298.8" cy="299.8" r="1.5" fill="#3a72b2" fill-opacity="0.45"/><circle cx="298.8" cy="299.8" r="0.85" fill="#3a72b2"/>
<circle cx="368.1" cy="319.3" r="1.5" fill="#3a72b2" fill-opacity="0.45"/><circle cx="368.1" cy="319.3" r="0.85" fill="#3a72b2"/>
<circle cx="343.1" cy="344.3" r="1.5" fill="#3a72b2" fill-opacity="0.45"/><circle cx="343.1" cy="344.3" r="0.85" fill="#3a72b2"/>
<circle cx="376.4" cy="311.6" r="1.5" fill="#3a72b2" fill-opacity="0.45"/><circle cx="376.4" cy="311.6" r="0.85" fill="#3a72b2"/>
<circle cx="378.0" cy="309.1" r="1.5" fill="#3a72b2" fill-opacity="0.45"/><circle cx="378.0" cy="309.1" r="0.85" fill="#3a72b2"/>
<circle cx="363.7" cy="347.4" r="1.5" fill="#3a72b2" fill-opacity="0.45"/><circle cx="363.7" cy="347.4" r="0.85" fill="#3a72b2"/>
<circle cx="377.7" cy="329.4" r="1.5" fill="#2fa2b6" fill-opacity="0.45"/><circle cx="377.7" cy="329.4" r="0.85" fill="#2fa2b6"/>
<circle cx="336.3" cy="306.1" r="1.5" fill="#3a72b2" fill-opacity="0.45"/><circle cx="336.3" cy="306.1" r="0.85" fill="#3a72b2"/>
<circle cx="309.6" cy="288.1" r="1.5" fill="#2fa2b6" fill-opacity="0.45"/><circle cx="309.6" cy="288.1" r="0.85" fill="#2fa2b6"/>
<circle cx="321.8" cy="294.1" r="1.5" fill="#3a72b2" fill-opacity="0.45"/><circle cx="321.8" cy="294.1" r="0.85" fill="#3a72b2"/>
<circle cx="378.6" cy="340.1" r="1.5" fill="#2fa2b6" fill-opacity="0.45"/><circle cx="378.6" cy="340.1" r="0.85" fill="#2fa2b6"/>
<circle cx="324.3" cy="299.2" r="1.5" fill="#3a72b2" fill-opacity="0.45"/><circle cx="324.3" cy="299.2" r="0.85" fill="#3a72b2"/>
<circle cx="341.6" cy="293.7" r="1.5" fill="#3a72b2" fill-opacity="0.45"/><circle cx="341.6" cy="293.7" r="0.85" fill="#3a72b2"/>
<circle cx="322.5" cy="346.0" r="1.5" fill="#b8e058" fill-opacity="0.45"/><circle cx="322.5" cy="346.0" r="0.85" fill="#b8e058"/>
<circle cx="350.1" cy="299.4" r="1.5" fill="#5ccc78" fill-opacity="0.45"/><circle cx="350.1" cy="299.4" r="0.85" fill="#5ccc78"/>
<circle cx="327.0" cy="306.7" r="1.5" fill="#3a72b2" fill-opacity="0.45"/><circle cx="327.0" cy="306.7" r="0.85" fill="#3a72b2"/>
<circle cx="334.0" cy="314.4" r="1.5" fill="#3a72b2" fill-opacity="0.45"/><circle cx="334.0" cy="314.4" r="0.85" fill="#3a72b2"/>
<circle cx="316.5" cy="316.3" r="1.5" fill="#3a72b2" fill-opacity="0.45"/><circle cx="316.5" cy="316.3" r="0.85" fill="#3a72b2"/>
<circle cx="322.6" cy="289.3" r="1.5" fill="#3a72b2" fill-opacity="0.45"/><circle cx="322.6" cy="289.3" r="0.85" fill="#3a72b2"/>
<circle cx="301.0" cy="285.0" r="1.5" fill="#3a72b2" fill-opacity="0.45"/><circle cx="301.0" cy="285.0" r="0.85" fill="#3a72b2"/>
<circle cx="319.6" cy="321.6" r="1.5" fill="#3a72b2" fill-opacity="0.45"/><circle cx="319.6" cy="321.6" r="0.85" fill="#3a72b2"/>
<circle cx="369.8" cy="326.2" r="1.5" fill="#2fa2b6" fill-opacity="0.45"/><circle cx="369.8" cy="326.2" r="0.85" fill="#2fa2b6"/>
<circle cx="382.3" cy="308.8" r="1.5" fill="#3a72b2" fill-opacity="0.45"/><circle cx="382.3" cy="308.8" r="0.85" fill="#3a72b2"/>
<circle cx="392.5" cy="293.2" r="1.5" fill="#2fa2b6" fill-opacity="0.45"/><circle cx="392.5" cy="293.2" r="0.85" fill="#2fa2b6"/>
<circle cx="359.4" cy="286.3" r="1.5" fill="#2fa2b6" fill-opacity="0.45"/><circle cx="359.4" cy="286.3" r="0.85" fill="#2fa2b6"/>
<circle cx="383.5" cy="324.3" r="1.5" fill="#2fa2b6" fill-opacity="0.45"/><circle cx="383.5" cy="324.3" r="0.85" fill="#2fa2b6"/>
<circle cx="375.8" cy="292.6" r="1.5" fill="#3a72b2" fill-opacity="0.45"/><circle cx="375.8" cy="292.6" r="0.85" fill="#3a72b2"/>
<circle cx="345.9" cy="337.8" r="1.5" fill="#2fa2b6" fill-opacity="0.45"/><circle cx="345.9" cy="337.8" r="0.85" fill="#2fa2b6"/>
<circle cx="377.2" cy="321.5" r="1.5" fill="#2fa2b6" fill-opacity="0.45"/><circle cx="377.2" cy="321.5" r="0.85" fill="#2fa2b6"/>
<circle cx="363.2" cy="328.6" r="1.5" fill="#3a72b2" fill-opacity="0.45"/><circle cx="363.2" cy="328.6" r="0.85" fill="#3a72b2"/>
<circle cx="300.0" cy="292.2" r="1.5" fill="#3a72b2" fill-opacity="0.45"/><circle cx="300.0" cy="292.2" r="0.85" fill="#3a72b2"/>
<circle cx="307.2" cy="337.8" r="1.5" fill="#3a72b2" fill-opacity="0.45"/><circle cx="307.2" cy="337.8" r="0.85" fill="#3a72b2"/>
<circle cx="357.9" cy="324.2" r="1.5" fill="#2fa2b6" fill-opacity="0.45"/><circle cx="357.9" cy="324.2" r="0.85" fill="#2fa2b6"/>
<circle cx="344.5" cy="283.7" r="1.5" fill="#2fa2b6" fill-opacity="0.45"/><circle cx="344.5" cy="283.7" r="0.85" fill="#2fa2b6"/>
<circle cx="369.6" cy="316.2" r="1.5" fill="#3a72b2" fill-opacity="0.45"/><circle cx="369.6" cy="316.2" r="0.85" fill="#3a72b2"/>
<circle cx="361.0" cy="287.8" r="1.5" fill="#2fa2b6" fill-opacity="0.45"/><circle cx="361.0" cy="287.8" r="0.85" fill="#2fa2b6"/>
<circle cx="321.5" cy="288.3" r="1.5" fill="#3a72b2" fill-opacity="0.45"/><circle cx="321.5" cy="288.3" r="0.85" fill="#3a72b2"/>
<circle cx="367.7" cy="296.8" r="1.5" fill="#2fa2b6" fill-opacity="0.45"/><circle cx="367.7" cy="296.8" r="0.85" fill="#2fa2b6"/>
<circle cx="391.6" cy="315.6" r="1.5" fill="#3a72b2" fill-opacity="0.45"/><circle cx="391.6" cy="315.6" r="0.85" fill="#3a72b2"/>
<circle cx="343.5" cy="327.9" r="1.5" fill="#2fa2b6" fill-opacity="0.45"/><circle cx="343.5" cy="327.9" r="0.85" fill="#2fa2b6"/>
<circle cx="356.8" cy="325.3" r="1.5" fill="#3a72b2" fill-opacity="0.45"/><circle cx="356.8" cy="325.3" r="0.85" fill="#3a72b2"/>
<circle cx="311.3" cy="300.0" r="1.5" fill="#2fa2b6" fill-opacity="0.45"/><circle cx="311.3" cy="300.0" r="0.85" fill="#2fa2b6"/>
<circle cx="326.5" cy="320.4" r="1.5" fill="#3a72b2" fill-opacity="0.45"/><circle cx="326.5" cy="320.4" r="0.85" fill="#3a72b2"/>
<circle cx="302.9" cy="301.0" r="1.5" fill="#2fa2b6" fill-opacity="0.45"/><circle cx="302.9" cy="301.0" r="0.85" fill="#2fa2b6"/>
<circle cx="364.1" cy="327.4" r="1.5" fill="#3a72b2" fill-opacity="0.45"/><circle cx="364.1" cy="327.4" r="0.85" fill="#3a72b2"/>
<circle cx="347.1" cy="313.7" r="1.5" fill="#3a72b2" fill-opacity="0.45"/><circle cx="347.1" cy="313.7" r="0.85" fill="#3a72b2"/>
<circle cx="308.5" cy="341.6" r="1.5" fill="#3a72b2" fill-opacity="0.45"/><circle cx="308.5" cy="341.6" r="0.85" fill="#3a72b2"/>
<circle cx="391.9" cy="344.4" r="1.5" fill="#3a72b2" fill-opacity="0.45"/><circle cx="391.9" cy="344.4" r="0.85" fill="#3a72b2"/>
<circle cx="341.5" cy="336.8" r="1.5" fill="#5ccc78" fill-opacity="0.45"/><circle cx="341.5" cy="336.8" r="0.85" fill="#5ccc78"/>
<circle cx="340.6" cy="301.0" r="1.5" fill="#3a72b2" fill-opacity="0.45"/><circle cx="340.6" cy="301.0" r="0.85" fill="#3a72b2"/>
<circle cx="388.7" cy="297.2" r="1.5" fill="#3a72b2" fill-opacity="0.45"/><circle cx="388.7" cy="297.2" r="0.85" fill="#3a72b2"/>
<circle cx="310.7" cy="317.6" r="1.5" fill="#5ccc78" fill-opacity="0.45"/><circle cx="310.7" cy="317.6" r="0.85" fill="#5ccc78"/>
<circle cx="309.9" cy="336.8" r="1.5" fill="#3a72b2" fill-opacity="0.45"/><circle cx="309.9" cy="336.8" r="0.85" fill="#3a72b2"/>
<circle cx="383.0" cy="329.2" r="1.5" fill="#3a72b2" fill-opacity="0.45"/><circle cx="383.0" cy="329.2" r="0.85" fill="#3a72b2"/>
<circle cx="384.1" cy="315.1" r="1.5" fill="#3a72b2" fill-opacity="0.45"/><circle cx="384.1" cy="315.1" r="0.85" fill="#3a72b2"/>
<circle cx="297.3" cy="315.5" r="1.5" fill="#3a72b2" fill-opacity="0.45"/><circle cx="297.3" cy="315.5" r="0.85" fill="#3a72b2"/>
<circle cx="326.3" cy="292.6" r="1.5" fill="#3a72b2" fill-opacity="0.45"/><circle cx="326.3" cy="292.6" r="0.85" fill="#3a72b2"/>
<circle cx="327.7" cy="338.1" r="1.5" fill="#3a72b2" fill-opacity="0.45"/><circle cx="327.7" cy="338.1" r="0.85" fill="#3a72b2"/>
<circle cx="369.8" cy="338.0" r="1.5" fill="#3a72b2" fill-opacity="0.45"/><circle cx="369.8" cy="338.0" r="0.85" fill="#3a72b2"/>
<circle cx="386.9" cy="329.8" r="1.5" fill="#5ccc78" fill-opacity="0.45"/><circle cx="386.9" cy="329.8" r="0.85" fill="#5ccc78"/>
<circle cx="325.1" cy="307.7" r="1.5" fill="#3a72b2" fill-opacity="0.45"/><circle cx="325.1" cy="307.7" r="0.85" fill="#3a72b2"/>
<circle cx="393.9" cy="321.8" r="1.5" fill="#3a72b2" fill-opacity="0.45"/><circle cx="393.9" cy="321.8" r="0.85" fill="#3a72b2"/>
<circle cx="338.5" cy="301.4" r="1.5" fill="#3a72b2" fill-opacity="0.45"/><circle cx="338.5" cy="301.4" r="0.85" fill="#3a72b2"/>
<circle cx="306.9" cy="337.8" r="1.5" fill="#3a72b2" fill-opacity="0.45"/><circle cx="306.9" cy="337.8" r="0.85" fill="#3a72b2"/>
<circle cx="387.8" cy="299.7" r="1.5" fill="#3a72b2" fill-opacity="0.45"/><circle cx="387.8" cy="299.7" r="0.85" fill="#3a72b2"/>
<circle cx="346.6" cy="295.8" r="1.5" fill="#3a72b2" fill-opacity="0.45"/><circle cx="346.6" cy="295.8" r="0.85" fill="#3a72b2"/>
<circle cx="389.7" cy="341.0" r="1.5" fill="#2fa2b6" fill-opacity="0.45"/><circle cx="389.7" cy="341.0" r="0.85" fill="#2fa2b6"/>
<circle cx="358.2" cy="342.9" r="1.5" fill="#5ccc78" fill-opacity="0.45"/><circle cx="358.2" cy="342.9" r="0.85" fill="#5ccc78"/>
<circle cx="350.3" cy="330.3" r="1.5" fill="#3a72b2" fill-opacity="0.45"/><circle cx="350.3" cy="330.3" r="0.85" fill="#3a72b2"/>
<circle cx="368.0" cy="312.8" r="1.5" fill="#2fa2b6" fill-opacity="0.45"/><circle cx="368.0" cy="312.8" r="0.85" fill="#2fa2b6"/>
<circle cx="359.5" cy="302.1" r="1.5" fill="#3a72b2" fill-opacity="0.45"/><circle cx="359.5" cy="302.1" r="0.85" fill="#3a72b2"/>
<circle cx="386.9" cy="291.8" r="1.5" fill="#3a72b2" fill-opacity="0.45"/><circle cx="386.9" cy="291.8" r="0.85" fill="#3a72b2"/>
<circle cx="330.3" cy="302.9" r="1.5" fill="#2fa2b6" fill-opacity="0.45"/><circle cx="330.3" cy="302.9" r="0.85" fill="#2fa2b6"/>
<circle cx="391.7" cy="300.4" r="1.5" fill="#2fa2b6" fill-opacity="0.45"/><circle cx="391.7" cy="300.4" r="0.85" fill="#2fa2b6"/>
<circle cx="326.2" cy="319.7" r="1.5" fill="#3a72b2" fill-opacity="0.45"/><circle cx="326.2" cy="319.7" r="0.85" fill="#3a72b2"/>
<circle cx="313.2" cy="294.0" r="1.5" fill="#3a72b2" fill-opacity="0.45"/><circle cx="313.2" cy="294.0" r="0.85" fill="#3a72b2"/>
<circle cx="384.9" cy="315.8" r="1.5" fill="#3a72b2" fill-opacity="0.45"/><circle cx="384.9" cy="315.8" r="0.85" fill="#3a72b2"/>
<circle cx="384.9" cy="348.3" r="1.5" fill="#3a72b2" fill-opacity="0.45"/><circle cx="384.9" cy="348.3" r="0.85" fill="#3a72b2"/>
<circle cx="310.5" cy="296.0" r="1.5" fill="#3a72b2" fill-opacity="0.45"/><circle cx="310.5" cy="296.0" r="0.85" fill="#3a72b2"/>
<circle cx="330.2" cy="289.4" r="1.5" fill="#3a72b2" fill-opacity="0.45"/><circle cx="330.2" cy="289.4" r="0.85" fill="#3a72b2"/>
<circle cx="322.1" cy="320.5" r="1.5" fill="#2fa2b6" fill-opacity="0.45"/><circle cx="322.1" cy="320.5" r="0.85" fill="#2fa2b6"/>
<circle cx="369.7" cy="310.3" r="1.5" fill="#3a72b2" fill-opacity="0.45"/><circle cx="369.7" cy="310.3" r="0.85" fill="#3a72b2"/>
<circle cx="347.8" cy="308.0" r="1.5" fill="#3a72b2" fill-opacity="0.45"/><circle cx="347.8" cy="308.0" r="0.85" fill="#3a72b2"/>
<circle cx="303.0" cy="301.5" r="1.5" fill="#5ccc78" fill-opacity="0.45"/><circle cx="303.0" cy="301.5" r="0.85" fill="#5ccc78"/>
<circle cx="309.2" cy="316.2" r="1.5" fill="#2fa2b6" fill-opacity="0.45"/><circle cx="309.2" cy="316.2" r="0.85" fill="#2fa2b6"/>
<circle cx="380.7" cy="297.5" r="1.5" fill="#3a72b2" fill-opacity="0.45"/><circle cx="380.7" cy="297.5" r="0.85" fill="#3a72b2"/>
<circle cx="321.1" cy="309.5" r="1.5" fill="#3a72b2" fill-opacity="0.45"/><circle cx="321.1" cy="309.5" r="0.85" fill="#3a72b2"/>
<circle cx="389.5" cy="338.7" r="1.5" fill="#2fa2b6" fill-opacity="0.45"/><circle cx="389.5" cy="338.7" r="0.85" fill="#2fa2b6"/>
<circle cx="299.1" cy="285.6" r="1.5" fill="#2fa2b6" fill-opacity="0.45"/><circle cx="299.1" cy="285.6" r="0.85" fill="#2fa2b6"/>
<circle cx="383.9" cy="314.3" r="1.5" fill="#3a72b2" fill-opacity="0.45"/><circle cx="383.9" cy="314.3" r="0.85" fill="#3a72b2"/>
<circle cx="297.0" cy="308.9" r="1.5" fill="#5ccc78" fill-opacity="0.45"/><circle cx="297.0" cy="308.9" r="0.85" fill="#5ccc78"/>
<circle cx="377.1" cy="339.1" r="1.5" fill="#b8e058" fill-opacity="0.45"/><circle cx="377.1" cy="339.1" r="0.85" fill="#b8e058"/>
<circle cx="321.1" cy="290.6" r="1.5" fill="#3a72b2" fill-opacity="0.45"/><circle cx="321.1" cy="290.6" r="0.85" fill="#3a72b2"/>
<circle cx="347.7" cy="327.8" r="1.5" fill="#5ccc78" fill-opacity="0.45"/><circle cx="347.7" cy="327.8" r="0.85" fill="#5ccc78"/>
<circle cx="367.0" cy="325.6" r="1.5" fill="#2fa2b6" fill-opacity="0.45"/><circle cx="367.0" cy="325.6" r="0.85" fill="#2fa2b6"/>
<circle cx="341.4" cy="319.3" r="1.5" fill="#3a72b2" fill-opacity="0.45"/><circle cx="341.4" cy="319.3" r="0.85" fill="#3a72b2"/>
<circle cx="372.9" cy="298.6" r="1.5" fill="#5ccc78" fill-opacity="0.45"/><circle cx="372.9" cy="298.6" r="0.85" fill="#5ccc78"/>
<circle cx="359.6" cy="303.2" r="1.5" fill="#3a72b2" fill-opacity="0.45"/><circle cx="359.6" cy="303.2" r="0.85" fill="#3a72b2"/>
<circle cx="321.4" cy="324.9" r="1.5" fill="#2fa2b6" fill-opacity="0.45"/><circle cx="321.4" cy="324.9" r="0.85" fill="#2fa2b6"/>
<circle cx="307.9" cy="288.1" r="1.5" fill="#3a72b2" fill-opacity="0.45"/><circle cx="307.9" cy="288.1" r="0.85" fill="#3a72b2"/>
<circle cx="353.5" cy="308.7" r="1.5" fill="#3a72b2" fill-opacity="0.45"/><circle cx="353.5" cy="308.7" r="0.85" fill="#3a72b2"/>
<circle cx="355.3" cy="284.2" r="1.5" fill="#3a72b2" fill-opacity="0.45"/><circle cx="355.3" cy="284.2" r="0.85" fill="#3a72b2"/>
<circle cx="341.7" cy="345.8" r="1.5" fill="#2fa2b6" fill-opacity="0.45"/><circle cx="341.7" cy="345.8" r="0.85" fill="#2fa2b6"/>
<circle cx="382.7" cy="314.4" r="1.5" fill="#3a72b2" fill-opacity="0.45"/><circle cx="382.7" cy="314.4" r="0.85" fill="#3a72b2"/>
<circle cx="321.0" cy="345.9" r="1.5" fill="#2fa2b6" fill-opacity="0.45"/><circle cx="321.0" cy="345.9" r="0.85" fill="#2fa2b6"/>
<circle cx="326.8" cy="284.9" r="1.5" fill="#3a72b2" fill-opacity="0.45"/><circle cx="326.8" cy="284.9" r="0.85" fill="#3a72b2"/>
<circle cx="362.4" cy="310.8" r="1.5" fill="#3a72b2" fill-opacity="0.45"/><circle cx="362.4" cy="310.8" r="0.85" fill="#3a72b2"/>
<circle cx="361.7" cy="343.6" r="1.5" fill="#3a72b2" fill-opacity="0.45"/><circle cx="361.7" cy="343.6" r="0.85" fill="#3a72b2"/>
<circle cx="300.3" cy="305.5" r="1.5" fill="#3a72b2" fill-opacity="0.45"/><circle cx="300.3" cy="305.5" r="0.85" fill="#3a72b2"/>
<circle cx="363.2" cy="296.4" r="1.5" fill="#2fa2b6" fill-opacity="0.45"/><circle cx="363.2" cy="296.4" r="0.85" fill="#2fa2b6"/>
<circle cx="368.7" cy="316.3" r="1.5" fill="#3a72b2" fill-opacity="0.45"/><circle cx="368.7" cy="316.3" r="0.85" fill="#3a72b2"/>
<circle cx="391.1" cy="303.8" r="1.5" fill="#2fa2b6" fill-opacity="0.45"/><circle cx="391.1" cy="303.8" r="0.85" fill="#2fa2b6"/>
<circle cx="319.4" cy="297.9" r="1.5" fill="#2fa2b6" fill-opacity="0.45"/><circle cx="319.4" cy="297.9" r="0.85" fill="#2fa2b6"/>
<circle cx="325.6" cy="345.4" r="1.5" fill="#3a72b2" fill-opacity="0.45"/><circle cx="325.6" cy="345.4" r="0.85" fill="#3a72b2"/>
<circle cx="315.2" cy="298.0" r="1.5" fill="#3a72b2" fill-opacity="0.45"/><circle cx="315.2" cy="298.0" r="0.85" fill="#3a72b2"/>
<circle cx="361.5" cy="345.2" r="1.5" fill="#3a72b2" fill-opacity="0.45"/><circle cx="361.5" cy="345.2" r="0.85" fill="#3a72b2"/>
<circle cx="335.2" cy="297.3" r="1.5" fill="#b8e058" fill-opacity="0.45"/><circle cx="335.2" cy="297.3" r="0.85" fill="#b8e058"/>
<circle cx="310.8" cy="286.9" r="1.5" fill="#3a72b2" fill-opacity="0.45"/><circle cx="310.8" cy="286.9" r="0.85" fill="#3a72b2"/>
<circle cx="335.2" cy="341.9" r="1.5" fill="#2fa2b6" fill-opacity="0.45"/><circle cx="335.2" cy="341.9" r="0.85" fill="#2fa2b6"/>
<circle cx="368.1" cy="348.3" r="1.5" fill="#5ccc78" fill-opacity="0.45"/><circle cx="368.1" cy="348.3" r="0.85" fill="#5ccc78"/>
<circle cx="328.9" cy="295.6" r="1.5" fill="#5ccc78" fill-opacity="0.45"/><circle cx="328.9" cy="295.6" r="0.85" fill="#5ccc78"/>
<circle cx="369.4" cy="285.6" r="1.5" fill="#2fa2b6" fill-opacity="0.45"/><circle cx="369.4" cy="285.6" r="0.85" fill="#2fa2b6"/>
<circle cx="333.7" cy="307.8" r="1.5" fill="#3a72b2" fill-opacity="0.45"/><circle cx="333.7" cy="307.8" r="0.85" fill="#3a72b2"/>
<circle cx="313.4" cy="283.7" r="1.5" fill="#3a72b2" fill-opacity="0.45"/><circle cx="313.4" cy="283.7" r="0.85" fill="#3a72b2"/>
<circle cx="331.1" cy="345.6" r="1.5" fill="#3a72b2" fill-opacity="0.45"/><circle cx="331.1" cy="345.6" r="0.85" fill="#3a72b2"/>
<circle cx="390.5" cy="297.0" r="1.5" fill="#3a72b2" fill-opacity="0.45"/><circle cx="390.5" cy="297.0" r="0.85" fill="#3a72b2"/>
<circle cx="376.7" cy="336.9" r="1.5" fill="#3a72b2" fill-opacity="0.45"/><circle cx="376.7" cy="336.9" r="0.85" fill="#3a72b2"/>
<circle cx="301.8" cy="314.3" r="1.5" fill="#3a72b2" fill-opacity="0.45"/><circle cx="301.8" cy="314.3" r="0.85" fill="#3a72b2"/>
<circle cx="386.2" cy="296.0" r="1.5" fill="#3a72b2" fill-opacity="0.45"/><circle cx="386.2" cy="296.0" r="0.85" fill="#3a72b2"/>
<circle cx="384.0" cy="285.5" r="1.5" fill="#3a72b2" fill-opacity="0.45"/><circle cx="384.0" cy="285.5" r="0.85" fill="#3a72b2"/>
<circle cx="375.7" cy="333.3" r="1.5" fill="#3a72b2" fill-opacity="0.45"/><circle cx="375.7" cy="333.3" r="0.85" fill="#3a72b2"/>
<circle cx="300.4" cy="287.6" r="1.5" fill="#5ccc78" fill-opacity="0.45"/><circle cx="300.4" cy="287.6" r="0.85" fill="#5ccc78"/>
<circle cx="321.9" cy="332.1" r="1.5" fill="#2fa2b6" fill-opacity="0.45"/><circle cx="321.9" cy="332.1" r="0.85" fill="#2fa2b6"/>
<circle cx="329.9" cy="301.2" r="1.5" fill="#5ccc78" fill-opacity="0.45"/><circle cx="329.9" cy="301.2" r="0.85" fill="#5ccc78"/>
<circle cx="356.8" cy="300.5" r="1.5" fill="#2fa2b6" fill-opacity="0.45"/><circle cx="356.8" cy="300.5" r="0.85" fill="#2fa2b6"/>
<circle cx="327.7" cy="301.4" r="1.5" fill="#3a72b2" fill-opacity="0.45"/><circle cx="327.7" cy="301.4" r="0.85" fill="#3a72b2"/>
<circle cx="370.3" cy="343.1" r="1.5" fill="#2fa2b6" fill-opacity="0.45"/><circle cx="370.3" cy="343.1" r="0.85" fill="#2fa2b6"/>
<circle cx="388.5" cy="285.1" r="1.5" fill="#3a72b2" fill-opacity="0.45"/><circle cx="388.5" cy="285.1" r="0.85" fill="#3a72b2"/>
<circle cx="343.1" cy="345.7" r="1.5" fill="#5ccc78" fill-opacity="0.45"/><circle cx="343.1" cy="345.7" r="0.85" fill="#5ccc78"/>
<circle cx="334.5" cy="299.8" r="1.5" fill="#3a72b2" fill-opacity="0.45"/><circle cx="334.5" cy="299.8" r="0.85" fill="#3a72b2"/>
<circle cx="344.9" cy="343.8" r="1.5" fill="#3a72b2" fill-opacity="0.45"/><circle cx="344.9" cy="343.8" r="0.85" fill="#3a72b2"/>
<circle cx="374.8" cy="331.5" r="1.5" fill="#2fa2b6" fill-opacity="0.45"/><circle cx="374.8" cy="331.5" r="0.85" fill="#2fa2b6"/>
<circle cx="372.0" cy="323.0" r="1.5" fill="#3a72b2" fill-opacity="0.45"/><circle cx="372.0" cy="323.0" r="0.85" fill="#3a72b2"/>
<circle cx="328.0" cy="307.0" r="1.5" fill="#2fa2b6" fill-opacity="0.45"/><circle cx="328.0" cy="307.0" r="0.85" fill="#2fa2b6"/>
<circle cx="304.7" cy="296.3" r="1.5" fill="#2fa2b6" fill-opacity="0.45"/><circle cx="304.7" cy="296.3" r="0.85" fill="#2fa2b6"/>
<circle cx="321.0" cy="287.7" r="1.5" fill="#3a72b2" fill-opacity="0.45"/><circle cx="321.0" cy="287.7" r="0.85" fill="#3a72b2"/>
<circle cx="350.6" cy="304.7" r="1.5" fill="#b8e058" fill-opacity="0.45"/><circle cx="350.6" cy="304.7" r="0.85" fill="#b8e058"/>
<circle cx="382.7" cy="347.7" r="1.5" fill="#3a72b2" fill-opacity="0.45"/><circle cx="382.7" cy="347.7" r="0.85" fill="#3a72b2"/>
<circle cx="305.2" cy="289.8" r="1.5" fill="#3a72b2" fill-opacity="0.45"/><circle cx="305.2" cy="289.8" r="0.85" fill="#3a72b2"/>
<circle cx="365.8" cy="312.6" r="1.5" fill="#3a72b2" fill-opacity="0.45"/><circle cx="365.8" cy="312.6" r="0.85" fill="#3a72b2"/>
<circle cx="337.4" cy="323.8" r="1.5" fill="#2fa2b6" fill-opacity="0.45"/><circle cx="337.4" cy="323.8" r="0.85" fill="#2fa2b6"/>
<circle cx="369.6" cy="338.6" r="1.5" fill="#2fa2b6" fill-opacity="0.45"/><circle cx="369.6" cy="338.6" r="0.85" fill="#2fa2b6"/>
<circle cx="308.8" cy="338.2" r="1.5" fill="#3a72b2" fill-opacity="0.45"/><circle cx="308.8" cy="338.2" r="0.85" fill="#3a72b2"/>
<circle cx="352.0" cy="307.7" r="1.5" fill="#2fa2b6" fill-opacity="0.45"/><circle cx="352.0" cy="307.7" r="0.85" fill="#2fa2b6"/>
<circle cx="316.3" cy="299.6" r="1.5" fill="#3a72b2" fill-opacity="0.45"/><circle cx="316.3" cy="299.6" r="0.85" fill="#3a72b2"/>
<circle cx="311.9" cy="341.0" r="1.5" fill="#3a72b2" fill-opacity="0.45"/><circle cx="311.9" cy="341.0" r="0.85" fill="#3a72b2"/>
<circle cx="328.7" cy="309.2" r="1.5" fill="#b8e058" fill-opacity="0.45"/><circle cx="328.7" cy="309.2" r="0.85" fill="#b8e058"/>
<circle cx="346.2" cy="298.5" r="1.5" fill="#2fa2b6" fill-opacity="0.45"/><circle cx="346.2" cy="298.5" r="0.85" fill="#2fa2b6"/>
<circle cx="360.4" cy="347.9" r="1.5" fill="#3a72b2" fill-opacity="0.45"/><circle cx="360.4" cy="347.9" r="0.85" fill="#3a72b2"/>
<circle cx="343.1" cy="336.7" r="1.5" fill="#2fa2b6" fill-opacity="0.45"/><circle cx="343.1" cy="336.7" r="0.85" fill="#2fa2b6"/>
<circle cx="385.7" cy="286.1" r="1.5" fill="#3a72b2" fill-opacity="0.45"/><circle cx="385.7" cy="286.1" r="0.85" fill="#3a72b2"/>
<circle cx="308.6" cy="295.8" r="1.5" fill="#b8e058" fill-opacity="0.45"/><circle cx="308.6" cy="295.8" r="0.85" fill="#b8e058"/>
<circle cx="353.6" cy="344.0" r="1.5" fill="#3a72b2" fill-opacity="0.45"/><circle cx="353.6" cy="344.0" r="0.85" fill="#3a72b2"/>
<circle cx="381.0" cy="312.7" r="1.5" fill="#3a72b2" fill-opacity="0.45"/><circle cx="381.0" cy="312.7" r="0.85" fill="#3a72b2"/>
<circle cx="372.4" cy="345.0" r="1.5" fill="#3a72b2" fill-opacity="0.45"/><circle cx="372.4" cy="345.0" r="0.85" fill="#3a72b2"/>
<circle cx="354.8" cy="323.8" r="1.5" fill="#3a72b2" fill-opacity="0.45"/><circle cx="354.8" cy="323.8" r="0.85" fill="#3a72b2"/>
<circle cx="332.8" cy="292.7" r="1.5" fill="#3a72b2" fill-opacity="0.45"/><circle cx="332.8" cy="292.7" r="0.85" fill="#3a72b2"/>
<circle cx="321.7" cy="322.5" r="1.5" fill="#2fa2b6" fill-opacity="0.45"/><circle cx="321.7" cy="322.5" r="0.85" fill="#2fa2b6"/>
<circle cx="316.7" cy="284.2" r="1.5" fill="#3a72b2" fill-opacity="0.45"/><circle cx="316.7" cy="284.2" r="0.85" fill="#3a72b2"/>
<circle cx="362.8" cy="295.5" r="1.5" fill="#3a72b2" fill-opacity="0.45"/><circle cx="362.8" cy="295.5" r="0.85" fill="#3a72b2"/>
<circle cx="316.7" cy="335.2" r="1.5" fill="#3a72b2" fill-opacity="0.45"/><circle cx="316.7" cy="335.2" r="0.85" fill="#3a72b2"/>
<circle cx="303.1" cy="290.1" r="1.5" fill="#3a72b2" fill-opacity="0.45"/><circle cx="303.1" cy="290.1" r="0.85" fill="#3a72b2"/>
<circle cx="350.4" cy="325.0" r="1.5" fill="#3a72b2" fill-opacity="0.45"/><circle cx="350.4" cy="325.0" r="0.85" fill="#3a72b2"/>
<circle cx="312.9" cy="328.7" r="1.5" fill="#3a72b2" fill-opacity="0.45"/><circle cx="312.9" cy="328.7" r="0.85" fill="#3a72b2"/>
<circle cx="324.5" cy="303.5" r="1.5" fill="#5ccc78" fill-opacity="0.45"/><circle cx="324.5" cy="303.5" r="0.85" fill="#5ccc78"/>
<circle cx="327.3" cy="320.3" r="1.5" fill="#3a72b2" fill-opacity="0.45"/><circle cx="327.3" cy="320.3" r="0.85" fill="#3a72b2"/>
<circle cx="337.4" cy="339.7" r="1.5" fill="#b8e058" fill-opacity="0.45"/><circle cx="337.4" cy="339.7" r="0.85" fill="#b8e058"/>
<circle cx="332.3" cy="296.3" r="1.5" fill="#2fa2b6" fill-opacity="0.45"/><circle cx="332.3" cy="296.3" r="0.85" fill="#2fa2b6"/>
<circle cx="316.8" cy="283.9" r="1.5" fill="#5ccc78" fill-opacity="0.45"/><circle cx="316.8" cy="283.9" r="0.85" fill="#5ccc78"/>
<circle cx="338.1" cy="336.8" r="1.5" fill="#3a72b2" fill-opacity="0.45"/><circle cx="338.1" cy="336.8" r="0.85" fill="#3a72b2"/>
<circle cx="382.6" cy="313.5" r="1.5" fill="#3a72b2" fill-opacity="0.45"/><circle cx="382.6" cy="313.5" r="0.85" fill="#3a72b2"/>
<circle cx="298.4" cy="319.4" r="1.5" fill="#2fa2b6" fill-opacity="0.45"/><circle cx="298.4" cy="319.4" r="0.85" fill="#2fa2b6"/>
<circle cx="385.3" cy="289.3" r="1.5" fill="#2fa2b6" fill-opacity="0.45"/><circle cx="385.3" cy="289.3" r="0.85" fill="#2fa2b6"/>
<circle cx="333.0" cy="316.3" r="1.5" fill="#3a72b2" fill-opacity="0.45"/><circle cx="333.0" cy="316.3" r="0.85" fill="#3a72b2"/>
<circle cx="324.5" cy="317.4" r="1.5" fill="#5ccc78" fill-opacity="0.45"/><circle cx="324.5" cy="317.4" r="0.85" fill="#5ccc78"/>
<circle cx="307.6" cy="315.4" r="1.5" fill="#2fa2b6" fill-opacity="0.45"/><circle cx="307.6" cy="315.4" r="0.85" fill="#2fa2b6"/>
<circle cx="390.8" cy="296.3" r="1.5" fill="#3a72b2" fill-opacity="0.45"/><circle cx="390.8" cy="296.3" r="0.85" fill="#3a72b2"/>
<circle cx="388.5" cy="346.9" r="1.5" fill="#3a72b2" fill-opacity="0.45"/><circle cx="388.5" cy="346.9" r="0.85" fill="#3a72b2"/>
<circle cx="302.2" cy="343.7" r="1.5" fill="#3a72b2" fill-opacity="0.45"/><circle cx="302.2" cy="343.7" r="0.85" fill="#3a72b2"/>
<circle cx="384.7" cy="323.8" r="1.5" fill="#2fa2b6" fill-opacity="0.45"/><circle cx="384.7" cy="323.8" r="0.85" fill="#2fa2b6"/>
<circle cx="312.5" cy="334.6" r="1.5" fill="#3a72b2" fill-opacity="0.45"/><circle cx="312.5" cy="334.6" r="0.85" fill="#3a72b2"/>
<circle cx="336.2" cy="338.5" r="1.5" fill="#2fa2b6" fill-opacity="0.45"/><circle cx="336.2" cy="338.5" r="0.85" fill="#2fa2b6"/>
<circle cx="314.7" cy="297.7" r="1.5" fill="#3a72b2" fill-opacity="0.45"/><circle cx="314.7" cy="297.7" r="0.85" fill="#3a72b2"/>
<circle cx="347.2" cy="308.4" r="1.5" fill="#3a72b2" fill-opacity="0.45"/><circle cx="347.2" cy="308.4" r="0.85" fill="#3a72b2"/>
<circle cx="321.0" cy="330.6" r="1.5" fill="#2fa2b6" fill-opacity="0.45"/><circle cx="321.0" cy="330.6" r="0.85" fill="#2fa2b6"/>
<circle cx="301.0" cy="320.1" r="1.5" fill="#2fa2b6" fill-opacity="0.45"/><circle cx="301.0" cy="320.1" r="0.85" fill="#2fa2b6"/>
<circle cx="300.7" cy="338.0" r="1.5" fill="#3a72b2" fill-opacity="0.45"/><circle cx="300.7" cy="338.0" r="0.85" fill="#3a72b2"/>
<circle cx="355.2" cy="319.3" r="1.5" fill="#2fa2b6" fill-opacity="0.45"/><circle cx="355.2" cy="319.3" r="0.85" fill="#2fa2b6"/>
<circle cx="326.7" cy="310.8" r="1.5" fill="#3a72b2" fill-opacity="0.45"/><circle cx="326.7" cy="310.8" r="0.85" fill="#3a72b2"/>
<circle cx="338.3" cy="326.3" r="1.5" fill="#3a72b2" fill-opacity="0.45"/><circle cx="338.3" cy="326.3" r="0.85" fill="#3a72b2"/>
<circle cx="339.5" cy="285.0" r="1.5" fill="#2fa2b6" fill-opacity="0.45"/><circle cx="339.5" cy="285.0" r="0.85" fill="#2fa2b6"/>
<circle cx="344.5" cy="298.8" r="1.5" fill="#2fa2b6" fill-opacity="0.45"/><circle cx="344.5" cy="298.8" r="0.85" fill="#2fa2b6"/>
<circle cx="372.7" cy="313.3" r="1.5" fill="#3a72b2" fill-opacity="0.45"/><circle cx="372.7" cy="313.3" r="0.85" fill="#3a72b2"/>
<circle cx="342.9" cy="290.5" r="1.5" fill="#3a72b2" fill-opacity="0.45"/><circle cx="342.9" cy="290.5" r="0.85" fill="#3a72b2"/>
<circle cx="338.8" cy="289.5" r="1.5" fill="#3a72b2" fill-opacity="0.45"/><circle cx="338.8" cy="289.5" r="0.85" fill="#3a72b2"/>
<circle cx="346.5" cy="286.1" r="1.5" fill="#2fa2b6" fill-opacity="0.45"/><circle cx="346.5" cy="286.1" r="0.85" fill="#2fa2b6"/>
<circle cx="305.0" cy="331.2" r="1.5" fill="#2fa2b6" fill-opacity="0.45"/><circle cx="305.0" cy="331.2" r="0.85" fill="#2fa2b6"/>
<circle cx="346.6" cy="287.0" r="1.5" fill="#3a72b2" fill-opacity="0.45"/><circle cx="346.6" cy="287.0" r="0.85" fill="#3a72b2"/>
<circle cx="333.7" cy="345.3" r="1.5" fill="#3a72b2" fill-opacity="0.45"/><circle cx="333.7" cy="345.3" r="0.85" fill="#3a72b2"/>
<circle cx="380.1" cy="348.2" r="1.5" fill="#2fa2b6" fill-opacity="0.45"/><circle cx="380.1" cy="348.2" r="0.85" fill="#2fa2b6"/>
<circle cx="376.1" cy="296.1" r="1.5" fill="#b8e058" fill-opacity="0.45"/><circle cx="376.1" cy="296.1" r="0.85" fill="#b8e058"/>
<circle cx="344.7" cy="345.7" r="1.5" fill="#5ccc78" fill-opacity="0.45"/><circle cx="344.7" cy="345.7" r="0.85" fill="#5ccc78"/>
<circle cx="313.0" cy="334.7" r="1.5" fill="#5ccc78" fill-opacity="0.45"/><circle cx="313.0" cy="334.7" r="0.85" fill="#5ccc78"/>
<circle cx="303.4" cy="306.3" r="1.5" fill="#2fa2b6" fill-opacity="0.45"/><circle cx="303.4" cy="306.3" r="0.85" fill="#2fa2b6"/>
<circle cx="312.4" cy="341.8" r="1.5" fill="#3a72b2" fill-opacity="0.45"/><circle cx="312.4" cy="341.8" r="0.85" fill="#3a72b2"/>
<circle cx="376.1" cy="292.8" r="1.5" fill="#3a72b2" fill-opacity="0.45"/><circle cx="376.1" cy="292.8" r="0.85" fill="#3a72b2"/>
<circle cx="386.2" cy="297.0" r="1.5" fill="#3a72b2" fill-opacity="0.45"/><circle cx="386.2" cy="297.0" r="0.85" fill="#3a72b2"/>
<circle cx="346.1" cy="304.2" r="1.5" fill="#3a72b2" fill-opacity="0.45"/><circle cx="346.1" cy="304.2" r="0.85" fill="#3a72b2"/>
<circle cx="314.7" cy="294.0" r="1.5" fill="#5ccc78" fill-opacity="0.45"/><circle cx="314.7" cy="294.0" r="0.85" fill="#5ccc78"/>
<circle cx="362.9" cy="341.7" r="1.5" fill="#3a72b2" fill-opacity="0.45"/><circle cx="362.9" cy="341.7" r="0.85" fill="#3a72b2"/>
<circle cx="373.1" cy="291.0" r="1.5" fill="#3a72b2" fill-opacity="0.45"/><circle cx="373.1" cy="291.0" r="0.85" fill="#3a72b2"/>
<circle cx="358.7" cy="306.9" r="1.5" fill="#2fa2b6" fill-opacity="0.45"/><circle cx="358.7" cy="306.9" r="0.85" fill="#2fa2b6"/>
<circle cx="350.9" cy="321.2" r="1.5" fill="#2fa2b6" fill-opacity="0.45"/><circle cx="350.9" cy="321.2" r="0.85" fill="#2fa2b6"/>
<circle cx="307.1" cy="348.0" r="1.5" fill="#2fa2b6" fill-opacity="0.45"/><circle cx="307.1" cy="348.0" r="0.85" fill="#2fa2b6"/>
<circle cx="335.2" cy="335.3" r="1.5" fill="#3a72b2" fill-opacity="0.45"/><circle cx="335.2" cy="335.3" r="0.85" fill="#3a72b2"/>
<circle cx="393.1" cy="321.0" r="1.5" fill="#3a72b2" fill-opacity="0.45"/><circle cx="393.1" cy="321.0" r="0.85" fill="#3a72b2"/>
<circle cx="371.2" cy="312.2" r="1.5" fill="#3a72b2" fill-opacity="0.45"/><circle cx="371.2" cy="312.2" r="0.85" fill="#3a72b2"/>
<circle cx="369.1" cy="286.6" r="1.5" fill="#2fa2b6" fill-opacity="0.45"/><circle cx="369.1" cy="286.6" r="0.85" fill="#2fa2b6"/>
<circle cx="321.6" cy="325.1" r="1.5" fill="#b8e058" fill-opacity="0.45"/><circle cx="321.6" cy="325.1" r="0.85" fill="#b8e058"/>
<circle cx="353.8" cy="326.6" r="1.5" fill="#3a72b2" fill-opacity="0.45"/><circle cx="353.8" cy="326.6" r="0.85" fill="#3a72b2"/>
<circle cx="297.2" cy="285.7" r="1.5" fill="#3a72b2" fill-opacity="0.45"/><circle cx="297.2" cy="285.7" r="0.85" fill="#3a72b2"/>
<circle cx="356.8" cy="311.6" r="1.5" fill="#3a72b2" fill-opacity="0.45"/><circle cx="356.8" cy="311.6" r="0.85" fill="#3a72b2"/>
<circle cx="383.9" cy="292.1" r="1.5" fill="#3a72b2" fill-opacity="0.45"/><circle cx="383.9" cy="292.1" r="0.85" fill="#3a72b2"/>
<circle cx="360.4" cy="284.9" r="1.5" fill="#3a72b2" fill-opacity="0.45"/><circle cx="360.4" cy="284.9" r="0.85" fill="#3a72b2"/>
<circle cx="331.4" cy="290.4" r="1.5" fill="#3a72b2" fill-opacity="0.45"/><circle cx="331.4" cy="290.4" r="0.85" fill="#3a72b2"/>
<circle cx="318.8" cy="321.4" r="1.5" fill="#3a72b2" fill-opacity="0.45"/><circle cx="318.8" cy="321.4" r="0.85" fill="#3a72b2"/>
<circle cx="316.8" cy="324.1" r="1.5" fill="#3a72b2" fill-opacity="0.45"/><circle cx="316.8" cy="324.1" r="0.85" fill="#3a72b2"/>
<circle cx="310.1" cy="344.4" r="1.5" fill="#3a72b2" fill-opacity="0.45"/><circle cx="310.1" cy="344.4" r="0.85" fill="#3a72b2"/>
<circle cx="311.5" cy="289.7" r="1.5" fill="#2fa2b6" fill-opacity="0.45"/><circle cx="311.5" cy="289.7" r="0.85" fill="#2fa2b6"/>
<circle cx="381.5" cy="334.3" r="1.5" fill="#3a72b2" fill-opacity="0.45"/><circle cx="381.5" cy="334.3" r="0.85" fill="#3a72b2"/>
<circle cx="322.6" cy="284.2" r="1.5" fill="#2fa2b6" fill-opacity="0.45"/><circle cx="322.6" cy="284.2" r="0.85" fill="#2fa2b6"/>
<circle cx="351.5" cy="306.3" r="1.5" fill="#2fa2b6" fill-opacity="0.45"/><circle cx="351.5" cy="306.3" r="0.85" fill="#2fa2b6"/>
<circle cx="340.0" cy="344.4" r="1.5" fill="#2fa2b6" fill-opacity="0.45"/><circle cx="340.0" cy="344.4" r="0.85" fill="#2fa2b6"/>
<circle cx="321.1" cy="342.2" r="1.5" fill="#3a72b2" fill-opacity="0.45"/><circle cx="321.1" cy="342.2" r="0.85" fill="#3a72b2"/>
<circle cx="348.6" cy="309.9" r="1.5" fill="#3a72b2" fill-opacity="0.45"/><circle cx="348.6" cy="309.9" r="0.85" fill="#3a72b2"/>
<circle cx="302.7" cy="334.1" r="1.5" fill="#3a72b2" fill-opacity="0.45"/><circle cx="302.7" cy="334.1" r="0.85" fill="#3a72b2"/>
<rect x="850.7" y="282" width="100.8" height="68" fill="#0e0e0e"/>
<rect x="855.2" y="283.4" width="1.1" height="1.1" fill="#b8b8b8"/>
<rect x="867.0" y="285.6" width="1.1" height="1.1" fill="#b8b8b8"/>
<rect x="872.4" y="284.2" width="1.1" height="1.1" fill="#b8b8b8"/>
<rect x="878.7" y="286.7" width="1.1" height="1.1" fill="#b8b8b8"/>
<rect x="889.1" y="282.8" width="1.1" height="1.1" fill="#b8b8b8"/>
<rect x="896.2" y="284.8" width="1.1" height="1.1" fill="#b8b8b8"/>
<rect x="901.8" y="283.8" width="1.1" height="1.1" fill="#b8b8b8"/>
<rect x="913.7" y="284.3" width="1.1" height="1.1" fill="#b8b8b8"/>
<rect x="924.0" y="286.5" width="1.1" height="1.1" fill="#b8b8b8"/>
<rect x="928.8" y="285.2" width="1.1" height="1.1" fill="#b8b8b8"/>
<rect x="938.4" y="285.1" width="1.1" height="1.1" fill="#b8b8b8"/>
<rect x="944.7" y="287.0" width="1.1" height="1.1" fill="#b8b8b8"/>
<rect x="857.6" y="290.5" width="1.1" height="1.1" fill="#b8b8b8"/>
<rect x="868.2" y="293.6" width="1.1" height="1.1" fill="#b8b8b8"/>
<rect x="873.1" y="293.3" width="1.1" height="1.1" fill="#b8b8b8"/>
<rect x="879.7" y="293.4" width="1.1" height="1.1" fill="#b8b8b8"/>
<rect x="889.0" y="292.3" width="1.1" height="1.1" fill="#b8b8b8"/>
<rect x="894.8" y="293.1" width="1.1" height="1.1" fill="#b8b8b8"/>
<rect x="903.8" y="291.3" width="1.1" height="1.1" fill="#b8b8b8"/>
<rect x="909.4" y="290.8" width="1.1" height="1.1" fill="#b8b8b8"/>
<rect x="920.9" y="293.4" width="1.1" height="1.1" fill="#b8b8b8"/>
<rect x="852.2" y="296.6" width="1.1" height="1.1" fill="#b8b8b8"/>
<rect x="874.7" y="299.1" width="1.1" height="1.1" fill="#b8b8b8"/>
<rect x="878.8" y="298.6" width="1.1" height="1.1" fill="#b8b8b8"/>
<rect x="889.6" y="299.6" width="1.1" height="1.1" fill="#b8b8b8"/>
<rect x="892.8" y="299.8" width="1.1" height="1.1" fill="#b8b8b8"/>
<rect x="904.2" y="296.5" width="1.1" height="1.1" fill="#b8b8b8"/>
<rect x="931.6" y="298.8" width="1.1" height="1.1" fill="#b8b8b8"/>
<rect x="937.7" y="297.3" width="1.1" height="1.1" fill="#b8b8b8"/>
<rect x="858.5" y="304.0" width="1.1" height="1.1" fill="#b8b8b8"/>
<rect x="864.6" y="303.7" width="1.1" height="1.1" fill="#b8b8b8"/>
<rect x="875.1" y="304.2" width="1.1" height="1.1" fill="#b8b8b8"/>
<rect x="883.3" y="304.8" width="1.1" height="1.1" fill="#b8b8b8"/>
<rect x="888.6" y="302.7" width="1.1" height="1.1" fill="#b8b8b8"/>
<rect x="894.7" y="306.0" width="1.1" height="1.1" fill="#b8b8b8"/>
<rect x="903.0" y="305.0" width="1.1" height="1.1" fill="#b8b8b8"/>
<rect x="914.0" y="306.2" width="1.1" height="1.1" fill="#b8b8b8"/>
<rect x="946.4" y="302.6" width="1.1" height="1.1" fill="#b8b8b8"/>
<rect x="853.0" y="312.7" width="1.1" height="1.1" fill="#b8b8b8"/>
<rect x="866.2" y="312.9" width="1.1" height="1.1" fill="#b8b8b8"/>
<rect x="876.2" y="310.4" width="1.1" height="1.1" fill="#b8b8b8"/>
<rect x="888.0" y="309.7" width="1.1" height="1.1" fill="#b8b8b8"/>
<rect x="892.9" y="312.7" width="1.1" height="1.1" fill="#b8b8b8"/>
<rect x="903.4" y="312.0" width="1.1" height="1.1" fill="#b8b8b8"/>
<rect x="908.5" y="310.9" width="1.1" height="1.1" fill="#b8b8b8"/>
<rect x="913.9" y="313.1" width="1.1" height="1.1" fill="#b8b8b8"/>
<rect x="939.0" y="311.4" width="1.1" height="1.1" fill="#b8b8b8"/>
<rect x="945.9" y="310.2" width="1.1" height="1.1" fill="#b8b8b8"/>
<rect x="853.2" y="319.1" width="1.1" height="1.1" fill="#b8b8b8"/>
<rect x="860.7" y="317.3" width="1.1" height="1.1" fill="#b8b8b8"/>
<rect x="865.3" y="319.5" width="1.1" height="1.1" fill="#b8b8b8"/>
<rect x="875.2" y="316.5" width="1.1" height="1.1" fill="#b8b8b8"/>
<rect x="882.4" y="318.3" width="1.1" height="1.1" fill="#b8b8b8"/>
<rect x="896.9" y="316.8" width="1.1" height="1.1" fill="#b8b8b8"/>
<rect x="910.0" y="319.5" width="1.1" height="1.1" fill="#b8b8b8"/>
<rect x="929.1" y="318.1" width="1.1" height="1.1" fill="#b8b8b8"/>
<rect x="942.4" y="320.1" width="1.1" height="1.1" fill="#b8b8b8"/>
<rect x="851.0" y="326.6" width="1.1" height="1.1" fill="#b8b8b8"/>
<rect x="869.4" y="325.9" width="1.1" height="1.1" fill="#b8b8b8"/>
<rect x="873.7" y="323.3" width="1.1" height="1.1" fill="#b8b8b8"/>
<rect x="879.0" y="323.3" width="1.1" height="1.1" fill="#b8b8b8"/>
<rect x="885.7" y="324.2" width="1.1" height="1.1" fill="#b8b8b8"/>
<rect x="896.0" y="324.6" width="1.1" height="1.1" fill="#b8b8b8"/>
<rect x="901.8" y="323.0" width="1.1" height="1.1" fill="#b8b8b8"/>
<rect x="908.5" y="325.7" width="1.1" height="1.1" fill="#b8b8b8"/>
<rect x="915.7" y="324.9" width="1.1" height="1.1" fill="#b8b8b8"/>
<rect x="922.6" y="323.4" width="1.1" height="1.1" fill="#b8b8b8"/>
<rect x="931.9" y="325.8" width="1.1" height="1.1" fill="#b8b8b8"/>
<rect x="938.8" y="325.4" width="1.1" height="1.1" fill="#b8b8b8"/>
<rect x="943.8" y="323.8" width="1.1" height="1.1" fill="#b8b8b8"/>
<rect x="851.0" y="330.8" width="1.1" height="1.1" fill="#b8b8b8"/>
<rect x="861.1" y="331.8" width="1.1" height="1.1" fill="#b8b8b8"/>
<rect x="866.6" y="331.0" width="1.1" height="1.1" fill="#b8b8b8"/>
<rect x="873.5" y="332.0" width="1.1" height="1.1" fill="#b8b8b8"/>
<rect x="879.4" y="331.9" width="1.1" height="1.1" fill="#b8b8b8"/>
<rect x="887.4" y="331.2" width="1.1" height="1.1" fill="#b8b8b8"/>
<rect x="892.7" y="331.4" width="1.1" height="1.1" fill="#b8b8b8"/>
<rect x="911.2" y="331.3" width="1.1" height="1.1" fill="#b8b8b8"/>
<rect x="923.2" y="332.2" width="1.1" height="1.1" fill="#b8b8b8"/>
<rect x="930.7" y="332.6" width="1.1" height="1.1" fill="#b8b8b8"/>
<rect x="936.6" y="333.2" width="1.1" height="1.1" fill="#b8b8b8"/>
<rect x="852.5" y="339.0" width="1.1" height="1.1" fill="#b8b8b8"/>
<rect x="866.3" y="335.8" width="1.1" height="1.1" fill="#b8b8b8"/>
<rect x="873.5" y="335.7" width="1.1" height="1.1" fill="#b8b8b8"/>
<rect x="880.6" y="338.7" width="1.1" height="1.1" fill="#b8b8b8"/>
<rect x="886.8" y="336.6" width="1.1" height="1.1" fill="#b8b8b8"/>
<rect x="897.2" y="337.9" width="1.1" height="1.1" fill="#b8b8b8"/>
<rect x="908.5" y="336.5" width="1.1" height="1.1" fill="#b8b8b8"/>
<rect x="924.5" y="338.4" width="1.1" height="1.1" fill="#b8b8b8"/>
<rect x="930.3" y="336.6" width="1.1" height="1.1" fill="#b8b8b8"/>
<rect x="936.3" y="338.4" width="1.1" height="1.1" fill="#b8b8b8"/>
<rect x="945.6" y="337.7" width="1.1" height="1.1" fill="#b8b8b8"/>
<rect x="853.2" y="342.8" width="1.1" height="1.1" fill="#b8b8b8"/>
<rect x="859.3" y="345.9" width="1.1" height="1.1" fill="#b8b8b8"/>
<rect x="866.4" y="343.3" width="1.1" height="1.1" fill="#b8b8b8"/>
<rect x="872.4" y="342.2" width="1.1" height="1.1" fill="#b8b8b8"/>
<rect x="879.9" y="343.3" width="1.1" height="1.1" fill="#b8b8b8"/>
<rect x="887.9" y="344.1" width="1.1" height="1.1" fill="#b8b8b8"/>
<rect x="895.8" y="343.8" width="1.1" height="1.1" fill="#b8b8b8"/>
<rect x="903.8" y="342.5" width="1.1" height="1.1" fill="#b8b8b8"/>
<rect x="911.0" y="345.6" width="1.1" height="1.1" fill="#b8b8b8"/>
<rect x="923.7" y="342.3" width="1.1" height="1.1" fill="#b8b8b8"/>
<rect x="937.8" y="343.3" width="1.1" height="1.1" fill="#b8b8b8"/>
</svg>
<div class="cap" style="top:392.5px">
<div style="letter-spacing:0.72px">Figure 2: An overview of the proposed Heuristic Depth Estimation Network (HDEN). The U-NET is first trained to complete</div>
<div style="letter-spacing:0.73px">the sparse depth reference map and obtain a coarse-level dense reference map and corresponding confidence map. Then, the</div>
<div>progressive depth reconstruction module successively reconstructs the dense depth map in different scales, where the multi-</div>
<div>level upsampling block is designed to recover local structure of object. Finally, we introduce the confidence-aware loss to</div>
<div class="last">leverage the reference samples with low confidence, which facilitate estimating the depth of the tiny structure.</div>
</div>
</body></html>
